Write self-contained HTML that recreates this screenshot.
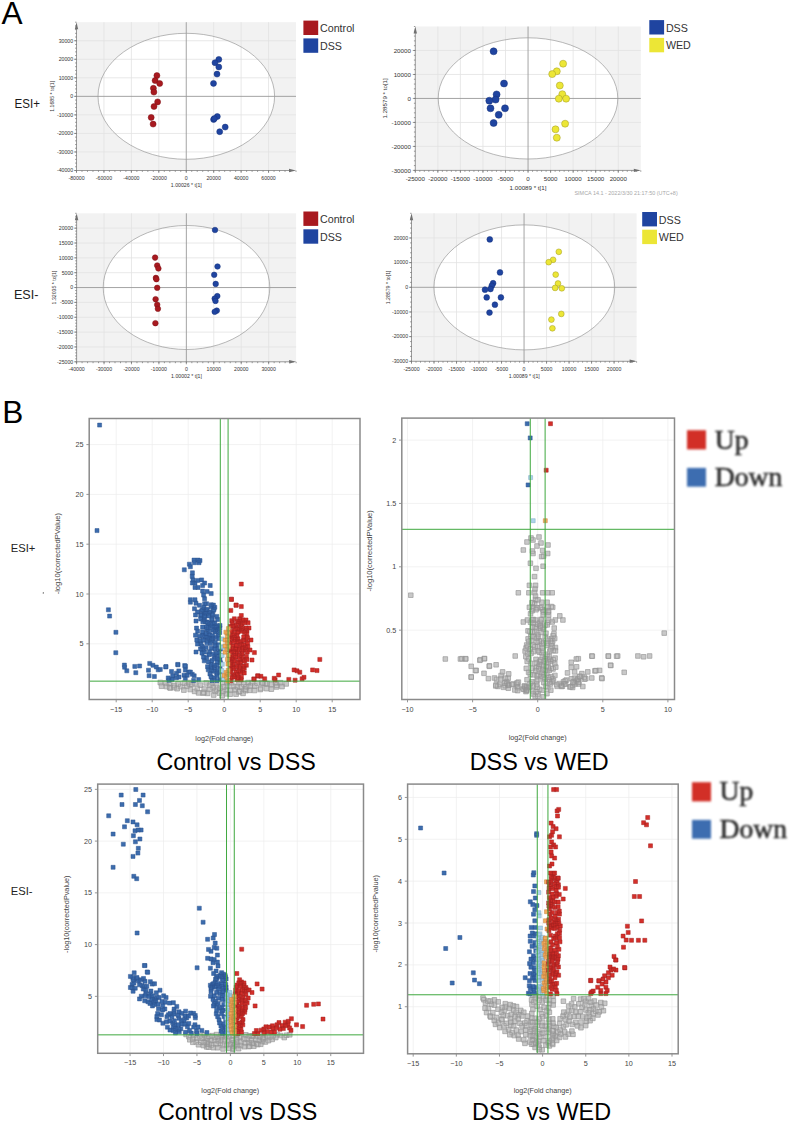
<!DOCTYPE html>
<html><head><meta charset="utf-8"><style>
html,body{margin:0;padding:0;background:#fff;width:789px;height:1122px;overflow:hidden}
svg{position:absolute;left:0;top:0;display:block}
text{font-family:"Liberation Sans", sans-serif}
</style></head><body>
<svg width="789" height="1122" viewBox="0 0 789 1122">
<defs><filter id="blur" x="-20%" y="-20%" width="140%" height="140%"><feGaussianBlur stdDeviation="0.7"/></filter></defs>
<text x="1.5" y="23.6" font-size="31.6" fill="#000" text-anchor="start" >A</text>
<text x="2.2" y="423" font-size="31.6" fill="#000" text-anchor="start" >B</text>
<text x="0" y="0" font-size="11.6" fill="#1a1a1a" text-anchor="start" transform="translate(14.5 107.8) scale(1 1.11)" >ESI+</text>
<text x="13.9" y="299.2" font-size="12.6" fill="#222" text-anchor="start" >ESI-</text>
<text x="10.8" y="551.9" font-size="11.2" fill="#222" text-anchor="start" >ESI+</text>
<text x="10.8" y="895.2" font-size="11.2" fill="#222" text-anchor="start" >ESI-</text>
<rect x="76.5" y="22.2" width="219.5" height="148.3" fill="#f2f2f2"/>
<ellipse cx="186.3" cy="96.3" rx="88.3" ry="63" fill="#fff"/>
<path d="M103.94 22.2V170.5M131.38 22.2V170.5M158.81 22.2V170.5M213.69 22.2V170.5M241.12 22.2V170.5M268.56 22.2V170.5M76.5 151.96H296M76.5 133.43H296M76.5 114.89H296M76.5 77.81H296M76.5 59.27H296M76.5 40.74H296" stroke="#e2e2e2" stroke-width="0.8" fill="none"/>
<ellipse cx="186.3" cy="96.3" rx="88.3" ry="63" fill="none" stroke="#8a8a8a" stroke-width="0.6"/>
<path d="M186.25 22.2V170.5M76.5 96.35H296" stroke="#9a9a9a" stroke-width="0.9" fill="none"/>
<path d="M76.5 170.5V24.2M76.5 170.5H294M76.5 170.5v2.5M103.94 170.5v2.5M131.38 170.5v2.5M158.81 170.5v2.5M186.25 170.5v2.5M213.69 170.5v2.5M241.12 170.5v2.5M268.56 170.5v2.5M76.5 170.5v1.4M81.99 170.5v1.4M87.47 170.5v1.4M92.96 170.5v1.4M98.45 170.5v1.4M103.94 170.5v1.4M109.42 170.5v1.4M114.91 170.5v1.4M120.4 170.5v1.4M125.89 170.5v1.4M131.38 170.5v1.4M136.86 170.5v1.4M142.35 170.5v1.4M147.84 170.5v1.4M153.32 170.5v1.4M158.81 170.5v1.4M164.3 170.5v1.4M169.79 170.5v1.4M175.28 170.5v1.4M180.76 170.5v1.4M186.25 170.5v1.4M191.74 170.5v1.4M197.23 170.5v1.4M202.71 170.5v1.4M208.2 170.5v1.4M213.69 170.5v1.4M219.18 170.5v1.4M224.66 170.5v1.4M230.15 170.5v1.4M235.64 170.5v1.4M241.12 170.5v1.4M246.61 170.5v1.4M252.1 170.5v1.4M257.59 170.5v1.4M263.07 170.5v1.4M268.56 170.5v1.4M274.05 170.5v1.4M279.54 170.5v1.4M285.02 170.5v1.4M290.51 170.5v1.4M296 170.5v1.4M76.5 170.5h-2.5M76.5 151.96h-2.5M76.5 133.43h-2.5M76.5 114.89h-2.5M76.5 96.35h-2.5M76.5 77.81h-2.5M76.5 59.27h-2.5M76.5 40.74h-2.5M76.5 170.5h-1.4M76.5 166.79h-1.4M76.5 163.09h-1.4M76.5 159.38h-1.4M76.5 155.67h-1.4M76.5 151.96h-1.4M76.5 148.25h-1.4M76.5 144.55h-1.4M76.5 140.84h-1.4M76.5 137.13h-1.4M76.5 133.43h-1.4M76.5 129.72h-1.4M76.5 126.01h-1.4M76.5 122.3h-1.4M76.5 118.59h-1.4M76.5 114.89h-1.4M76.5 111.18h-1.4M76.5 107.47h-1.4M76.5 103.76h-1.4M76.5 100.06h-1.4M76.5 96.35h-1.4M76.5 92.64h-1.4M76.5 88.93h-1.4M76.5 85.23h-1.4M76.5 81.52h-1.4M76.5 77.81h-1.4M76.5 74.1h-1.4M76.5 70.4h-1.4M76.5 66.69h-1.4M76.5 62.98h-1.4M76.5 59.27h-1.4M76.5 55.57h-1.4M76.5 51.86h-1.4M76.5 48.15h-1.4M76.5 44.44h-1.4M76.5 40.74h-1.4M76.5 37.03h-1.4M76.5 33.32h-1.4M76.5 29.62h-1.4M76.5 25.91h-1.4M76.5 22.2h-1.4" stroke="#707070" stroke-width="0.7" fill="none"/>
<path d="M74.8 29.2L76.5 22.2L78.2 29.2Z" fill="#707070"/>
<path d="M289 168.8L296 170.5L289 172.2Z" fill="#707070"/>
<text x="76.5" y="180.1" font-size="5.2" fill="#333" text-anchor="middle" >-80000</text>
<text x="103.94" y="180.1" font-size="5.2" fill="#333" text-anchor="middle" >-60000</text>
<text x="131.38" y="180.1" font-size="5.2" fill="#333" text-anchor="middle" >-40000</text>
<text x="158.81" y="180.1" font-size="5.2" fill="#333" text-anchor="middle" >-20000</text>
<text x="186.25" y="180.1" font-size="5.2" fill="#333" text-anchor="middle" >0</text>
<text x="213.69" y="180.1" font-size="5.2" fill="#333" text-anchor="middle" >20000</text>
<text x="241.12" y="180.1" font-size="5.2" fill="#333" text-anchor="middle" >40000</text>
<text x="268.56" y="180.1" font-size="5.2" fill="#333" text-anchor="middle" >60000</text>
<text x="73.1" y="172.32" font-size="5.2" fill="#333" text-anchor="end" >-40000</text>
<text x="73.1" y="153.78" font-size="5.2" fill="#333" text-anchor="end" >-30000</text>
<text x="73.1" y="135.25" font-size="5.2" fill="#333" text-anchor="end" >-20000</text>
<text x="73.1" y="116.71" font-size="5.2" fill="#333" text-anchor="end" >-10000</text>
<text x="73.1" y="98.17" font-size="5.2" fill="#333" text-anchor="end" >0</text>
<text x="73.1" y="79.63" font-size="5.2" fill="#333" text-anchor="end" >10000</text>
<text x="73.1" y="61.09" font-size="5.2" fill="#333" text-anchor="end" >20000</text>
<text x="73.1" y="42.56" font-size="5.2" fill="#333" text-anchor="end" >30000</text>
<text x="186.3" y="186.6" font-size="5.2" fill="#333" text-anchor="middle" >1.00026 * t[1]</text>
<text x="0" y="0" font-size="5.2" fill="#333" text-anchor="middle" transform="translate(53.8 96.3) rotate(-90)">1.1685 * to[1]</text>
<circle cx="156.9" cy="75.6" r="3" fill="#a8191f" stroke="#7d1015" stroke-width="0.5"/>
<circle cx="155.1" cy="80.6" r="3" fill="#a8191f" stroke="#7d1015" stroke-width="0.5"/>
<circle cx="159.7" cy="83.5" r="3" fill="#a8191f" stroke="#7d1015" stroke-width="0.5"/>
<circle cx="153.4" cy="88.3" r="3" fill="#a8191f" stroke="#7d1015" stroke-width="0.5"/>
<circle cx="153.9" cy="92.1" r="3" fill="#a8191f" stroke="#7d1015" stroke-width="0.5"/>
<circle cx="157.6" cy="101.9" r="3" fill="#a8191f" stroke="#7d1015" stroke-width="0.5"/>
<circle cx="154" cy="106.5" r="3" fill="#a8191f" stroke="#7d1015" stroke-width="0.5"/>
<circle cx="151.2" cy="117.4" r="3" fill="#a8191f" stroke="#7d1015" stroke-width="0.5"/>
<circle cx="153.1" cy="124.1" r="3" fill="#a8191f" stroke="#7d1015" stroke-width="0.5"/>
<circle cx="218.8" cy="59.4" r="3" fill="#1f44a0" stroke="#15307a" stroke-width="0.5"/>
<circle cx="215" cy="62.7" r="3" fill="#1f44a0" stroke="#15307a" stroke-width="0.5"/>
<circle cx="218.8" cy="67" r="3" fill="#1f44a0" stroke="#15307a" stroke-width="0.5"/>
<circle cx="217" cy="74.1" r="3" fill="#1f44a0" stroke="#15307a" stroke-width="0.5"/>
<circle cx="213.5" cy="83.4" r="3" fill="#1f44a0" stroke="#15307a" stroke-width="0.5"/>
<circle cx="217.3" cy="116.5" r="3" fill="#1f44a0" stroke="#15307a" stroke-width="0.5"/>
<circle cx="213.6" cy="119.5" r="3" fill="#1f44a0" stroke="#15307a" stroke-width="0.5"/>
<circle cx="214.3" cy="118.6" r="3" fill="#1f44a0" stroke="#15307a" stroke-width="0.5"/>
<circle cx="225.2" cy="127.1" r="3" fill="#1f44a0" stroke="#15307a" stroke-width="0.5"/>
<circle cx="219.7" cy="131.7" r="3" fill="#1f44a0" stroke="#15307a" stroke-width="0.5"/>
<rect x="303.4" y="20.6" width="14.8" height="14.4" fill="#a8191f"/>
<text x="320" y="32.1" font-size="10.7" fill="#333" text-anchor="start" >Control</text>
<rect x="303.4" y="38.4" width="14.8" height="14.4" fill="#1f44a0"/>
<text x="320" y="49.9" font-size="10.7" fill="#333" text-anchor="start" >DSS</text>
<rect x="415.3" y="26.5" width="225.5" height="143.9" fill="#f2f2f2"/>
<ellipse cx="528" cy="98.4" rx="89.8" ry="60.6" fill="#fff"/>
<path d="M437.85 26.5V170.4M460.4 26.5V170.4M482.95 26.5V170.4M505.5 26.5V170.4M550.6 26.5V170.4M573.15 26.5V170.4M595.7 26.5V170.4M618.25 26.5V170.4M415.3 146.42H640.8M415.3 122.43H640.8M415.3 74.47H640.8M415.3 50.48H640.8" stroke="#e2e2e2" stroke-width="0.8" fill="none"/>
<ellipse cx="528" cy="98.4" rx="89.8" ry="60.6" fill="none" stroke="#8a8a8a" stroke-width="0.6"/>
<path d="M528.05 26.5V170.4M415.3 98.45H640.8" stroke="#9a9a9a" stroke-width="0.9" fill="none"/>
<path d="M415.3 170.4V28.5M415.3 170.4H638.8M415.3 170.4v2.5M437.85 170.4v2.5M460.4 170.4v2.5M482.95 170.4v2.5M505.5 170.4v2.5M528.05 170.4v2.5M550.6 170.4v2.5M573.15 170.4v2.5M595.7 170.4v2.5M618.25 170.4v2.5M415.3 170.4v1.4M419.81 170.4v1.4M424.32 170.4v1.4M428.83 170.4v1.4M433.34 170.4v1.4M437.85 170.4v1.4M442.36 170.4v1.4M446.87 170.4v1.4M451.38 170.4v1.4M455.89 170.4v1.4M460.4 170.4v1.4M464.91 170.4v1.4M469.42 170.4v1.4M473.93 170.4v1.4M478.44 170.4v1.4M482.95 170.4v1.4M487.46 170.4v1.4M491.97 170.4v1.4M496.48 170.4v1.4M500.99 170.4v1.4M505.5 170.4v1.4M510.01 170.4v1.4M514.52 170.4v1.4M519.03 170.4v1.4M523.54 170.4v1.4M528.05 170.4v1.4M532.56 170.4v1.4M537.07 170.4v1.4M541.58 170.4v1.4M546.09 170.4v1.4M550.6 170.4v1.4M555.11 170.4v1.4M559.62 170.4v1.4M564.13 170.4v1.4M568.64 170.4v1.4M573.15 170.4v1.4M577.66 170.4v1.4M582.17 170.4v1.4M586.68 170.4v1.4M591.19 170.4v1.4M595.7 170.4v1.4M600.21 170.4v1.4M604.72 170.4v1.4M609.23 170.4v1.4M613.74 170.4v1.4M618.25 170.4v1.4M622.76 170.4v1.4M627.27 170.4v1.4M631.78 170.4v1.4M636.29 170.4v1.4M640.8 170.4v1.4M415.3 170.4h-2.5M415.3 146.42h-2.5M415.3 122.43h-2.5M415.3 98.45h-2.5M415.3 74.47h-2.5M415.3 50.48h-2.5M415.3 170.4h-1.4M415.3 165.6h-1.4M415.3 160.81h-1.4M415.3 156.01h-1.4M415.3 151.21h-1.4M415.3 146.42h-1.4M415.3 141.62h-1.4M415.3 136.82h-1.4M415.3 132.03h-1.4M415.3 127.23h-1.4M415.3 122.43h-1.4M415.3 117.64h-1.4M415.3 112.84h-1.4M415.3 108.04h-1.4M415.3 103.25h-1.4M415.3 98.45h-1.4M415.3 93.65h-1.4M415.3 88.86h-1.4M415.3 84.06h-1.4M415.3 79.26h-1.4M415.3 74.47h-1.4M415.3 69.67h-1.4M415.3 64.87h-1.4M415.3 60.08h-1.4M415.3 55.28h-1.4M415.3 50.48h-1.4M415.3 45.69h-1.4M415.3 40.89h-1.4M415.3 36.09h-1.4M415.3 31.3h-1.4M415.3 26.5h-1.4" stroke="#707070" stroke-width="0.7" fill="none"/>
<path d="M413.6 33.5L415.3 26.5L417 33.5Z" fill="#707070"/>
<path d="M633.8 168.7L640.8 170.4L633.8 172.1Z" fill="#707070"/>
<text x="415.3" y="181.4" font-size="6.2" fill="#333" text-anchor="middle" >-25000</text>
<text x="437.85" y="181.4" font-size="6.2" fill="#333" text-anchor="middle" >-20000</text>
<text x="460.4" y="181.4" font-size="6.2" fill="#333" text-anchor="middle" >-15000</text>
<text x="482.95" y="181.4" font-size="6.2" fill="#333" text-anchor="middle" >-10000</text>
<text x="505.5" y="181.4" font-size="6.2" fill="#333" text-anchor="middle" >-5000</text>
<text x="528.05" y="181.4" font-size="6.2" fill="#333" text-anchor="middle" >0</text>
<text x="550.6" y="181.4" font-size="6.2" fill="#333" text-anchor="middle" >5000</text>
<text x="573.15" y="181.4" font-size="6.2" fill="#333" text-anchor="middle" >10000</text>
<text x="595.7" y="181.4" font-size="6.2" fill="#333" text-anchor="middle" >15000</text>
<text x="618.25" y="181.4" font-size="6.2" fill="#333" text-anchor="middle" >20000</text>
<text x="410.9" y="172.57" font-size="6.2" fill="#333" text-anchor="end" >-30000</text>
<text x="410.9" y="148.59" font-size="6.2" fill="#333" text-anchor="end" >-20000</text>
<text x="410.9" y="124.6" font-size="6.2" fill="#333" text-anchor="end" >-10000</text>
<text x="410.9" y="100.62" font-size="6.2" fill="#333" text-anchor="end" >0</text>
<text x="410.9" y="76.64" font-size="6.2" fill="#333" text-anchor="end" >10000</text>
<text x="410.9" y="52.65" font-size="6.2" fill="#333" text-anchor="end" >20000</text>
<text x="528" y="189.5" font-size="6.2" fill="#333" text-anchor="middle" >1.00089 * t[1]</text>
<text x="0" y="0" font-size="6.2" fill="#333" text-anchor="middle" transform="translate(387.4 98.4) rotate(-90)">1.28579 * to[1]</text>
<circle cx="493.6" cy="51.3" r="3.5" fill="#1f44a0" stroke="#15307a" stroke-width="0.5"/>
<circle cx="504" cy="83.5" r="3.5" fill="#1f44a0" stroke="#15307a" stroke-width="0.5"/>
<circle cx="496.6" cy="94.4" r="3.5" fill="#1f44a0" stroke="#15307a" stroke-width="0.5"/>
<circle cx="495.6" cy="99.6" r="3.5" fill="#1f44a0" stroke="#15307a" stroke-width="0.5"/>
<circle cx="489.3" cy="100.7" r="3.5" fill="#1f44a0" stroke="#15307a" stroke-width="0.5"/>
<circle cx="490.5" cy="108.3" r="3.5" fill="#1f44a0" stroke="#15307a" stroke-width="0.5"/>
<circle cx="505" cy="108.3" r="3.5" fill="#1f44a0" stroke="#15307a" stroke-width="0.5"/>
<circle cx="498.7" cy="114.8" r="3.5" fill="#1f44a0" stroke="#15307a" stroke-width="0.5"/>
<circle cx="493.6" cy="123" r="3.5" fill="#1f44a0" stroke="#15307a" stroke-width="0.5"/>
<circle cx="563.1" cy="63.7" r="3.5" fill="#ece636" stroke="#a09a20" stroke-width="0.5"/>
<circle cx="556.8" cy="71.3" r="3.5" fill="#ece636" stroke="#a09a20" stroke-width="0.5"/>
<circle cx="552.2" cy="74.1" r="3.5" fill="#ece636" stroke="#a09a20" stroke-width="0.5"/>
<circle cx="559.8" cy="85.5" r="3.5" fill="#ece636" stroke="#a09a20" stroke-width="0.5"/>
<circle cx="562.3" cy="94.2" r="3.5" fill="#ece636" stroke="#a09a20" stroke-width="0.5"/>
<circle cx="558.8" cy="98.7" r="3.5" fill="#ece636" stroke="#a09a20" stroke-width="0.5"/>
<circle cx="566.1" cy="98.7" r="3.5" fill="#ece636" stroke="#a09a20" stroke-width="0.5"/>
<circle cx="565.1" cy="123.7" r="3.5" fill="#ece636" stroke="#a09a20" stroke-width="0.5"/>
<circle cx="555.5" cy="129.3" r="3.5" fill="#ece636" stroke="#a09a20" stroke-width="0.5"/>
<circle cx="556.8" cy="137.7" r="3.5" fill="#ece636" stroke="#a09a20" stroke-width="0.5"/>
<rect x="649.3" y="20.1" width="14.8" height="14.4" fill="#1f44a0"/>
<text x="665.9" y="31.6" font-size="10.7" fill="#333" text-anchor="start" >DSS</text>
<rect x="649.3" y="37.9" width="14.8" height="14.4" fill="#ece636"/>
<text x="665.9" y="49.4" font-size="10.7" fill="#333" text-anchor="start" >WED</text>
<rect x="76.6" y="213.3" width="219.5" height="148.5" fill="#f2f2f2"/>
<ellipse cx="186.5" cy="287.5" rx="83.3" ry="62" fill="#fff"/>
<path d="M104.04 213.3V361.8M131.47 213.3V361.8M158.91 213.3V361.8M213.79 213.3V361.8M241.23 213.3V361.8M268.66 213.3V361.8M76.6 346.95H296.1M76.6 332.1H296.1M76.6 317.25H296.1M76.6 302.4H296.1M76.6 272.7H296.1M76.6 257.85H296.1M76.6 243H296.1M76.6 228.15H296.1" stroke="#e2e2e2" stroke-width="0.8" fill="none"/>
<ellipse cx="186.5" cy="287.5" rx="83.3" ry="62" fill="none" stroke="#8a8a8a" stroke-width="0.6"/>
<path d="M186.35 213.3V361.8M76.6 287.55H296.1" stroke="#9a9a9a" stroke-width="0.9" fill="none"/>
<path d="M76.6 361.8V215.3M76.6 361.8H294.1M76.6 361.8v2.5M104.04 361.8v2.5M131.47 361.8v2.5M158.91 361.8v2.5M186.35 361.8v2.5M213.79 361.8v2.5M241.23 361.8v2.5M268.66 361.8v2.5M76.6 361.8v1.4M82.09 361.8v1.4M87.57 361.8v1.4M93.06 361.8v1.4M98.55 361.8v1.4M104.04 361.8v1.4M109.53 361.8v1.4M115.01 361.8v1.4M120.5 361.8v1.4M125.99 361.8v1.4M131.47 361.8v1.4M136.96 361.8v1.4M142.45 361.8v1.4M147.94 361.8v1.4M153.43 361.8v1.4M158.91 361.8v1.4M164.4 361.8v1.4M169.89 361.8v1.4M175.38 361.8v1.4M180.86 361.8v1.4M186.35 361.8v1.4M191.84 361.8v1.4M197.33 361.8v1.4M202.81 361.8v1.4M208.3 361.8v1.4M213.79 361.8v1.4M219.28 361.8v1.4M224.76 361.8v1.4M230.25 361.8v1.4M235.74 361.8v1.4M241.23 361.8v1.4M246.71 361.8v1.4M252.2 361.8v1.4M257.69 361.8v1.4M263.18 361.8v1.4M268.66 361.8v1.4M274.15 361.8v1.4M279.64 361.8v1.4M285.12 361.8v1.4M290.61 361.8v1.4M296.1 361.8v1.4M76.6 361.8h-2.5M76.6 346.95h-2.5M76.6 332.1h-2.5M76.6 317.25h-2.5M76.6 302.4h-2.5M76.6 287.55h-2.5M76.6 272.7h-2.5M76.6 257.85h-2.5M76.6 243h-2.5M76.6 228.15h-2.5M76.6 361.8h-1.4M76.6 358.83h-1.4M76.6 355.86h-1.4M76.6 352.89h-1.4M76.6 349.92h-1.4M76.6 346.95h-1.4M76.6 343.98h-1.4M76.6 341.01h-1.4M76.6 338.04h-1.4M76.6 335.07h-1.4M76.6 332.1h-1.4M76.6 329.13h-1.4M76.6 326.16h-1.4M76.6 323.19h-1.4M76.6 320.22h-1.4M76.6 317.25h-1.4M76.6 314.28h-1.4M76.6 311.31h-1.4M76.6 308.34h-1.4M76.6 305.37h-1.4M76.6 302.4h-1.4M76.6 299.43h-1.4M76.6 296.46h-1.4M76.6 293.49h-1.4M76.6 290.52h-1.4M76.6 287.55h-1.4M76.6 284.58h-1.4M76.6 281.61h-1.4M76.6 278.64h-1.4M76.6 275.67h-1.4M76.6 272.7h-1.4M76.6 269.73h-1.4M76.6 266.76h-1.4M76.6 263.79h-1.4M76.6 260.82h-1.4M76.6 257.85h-1.4M76.6 254.88h-1.4M76.6 251.91h-1.4M76.6 248.94h-1.4M76.6 245.97h-1.4M76.6 243h-1.4M76.6 240.03h-1.4M76.6 237.06h-1.4M76.6 234.09h-1.4M76.6 231.12h-1.4M76.6 228.15h-1.4M76.6 225.18h-1.4M76.6 222.21h-1.4M76.6 219.24h-1.4M76.6 216.27h-1.4M76.6 213.3h-1.4" stroke="#707070" stroke-width="0.7" fill="none"/>
<path d="M74.9 220.3L76.6 213.3L78.3 220.3Z" fill="#707070"/>
<path d="M289.1 360.1L296.1 361.8L289.1 363.5Z" fill="#707070"/>
<text x="76.6" y="371.4" font-size="5.2" fill="#333" text-anchor="middle" >-40000</text>
<text x="104.04" y="371.4" font-size="5.2" fill="#333" text-anchor="middle" >-30000</text>
<text x="131.47" y="371.4" font-size="5.2" fill="#333" text-anchor="middle" >-20000</text>
<text x="158.91" y="371.4" font-size="5.2" fill="#333" text-anchor="middle" >-10000</text>
<text x="186.35" y="371.4" font-size="5.2" fill="#333" text-anchor="middle" >0</text>
<text x="213.79" y="371.4" font-size="5.2" fill="#333" text-anchor="middle" >10000</text>
<text x="241.23" y="371.4" font-size="5.2" fill="#333" text-anchor="middle" >20000</text>
<text x="268.66" y="371.4" font-size="5.2" fill="#333" text-anchor="middle" >30000</text>
<text x="73.2" y="363.62" font-size="5.2" fill="#333" text-anchor="end" >-25000</text>
<text x="73.2" y="348.77" font-size="5.2" fill="#333" text-anchor="end" >-20000</text>
<text x="73.2" y="333.92" font-size="5.2" fill="#333" text-anchor="end" >-15000</text>
<text x="73.2" y="319.07" font-size="5.2" fill="#333" text-anchor="end" >-10000</text>
<text x="73.2" y="304.22" font-size="5.2" fill="#333" text-anchor="end" >-5000</text>
<text x="73.2" y="289.37" font-size="5.2" fill="#333" text-anchor="end" >0</text>
<text x="73.2" y="274.52" font-size="5.2" fill="#333" text-anchor="end" >5000</text>
<text x="73.2" y="259.67" font-size="5.2" fill="#333" text-anchor="end" >10000</text>
<text x="73.2" y="244.82" font-size="5.2" fill="#333" text-anchor="end" >15000</text>
<text x="73.2" y="229.97" font-size="5.2" fill="#333" text-anchor="end" >20000</text>
<text x="186.5" y="377.5" font-size="5.2" fill="#333" text-anchor="middle" >1.00002 * t[1]</text>
<text x="0" y="0" font-size="5.2" fill="#333" text-anchor="middle" transform="translate(55.5 287.5) rotate(-90)">1.32035 * to[1]</text>
<circle cx="155.1" cy="257.6" r="2.8" fill="#a8191f" stroke="#7d1015" stroke-width="0.5"/>
<circle cx="157.2" cy="265.5" r="2.8" fill="#a8191f" stroke="#7d1015" stroke-width="0.5"/>
<circle cx="158.4" cy="268.5" r="2.8" fill="#a8191f" stroke="#7d1015" stroke-width="0.5"/>
<circle cx="155.9" cy="277.9" r="2.8" fill="#a8191f" stroke="#7d1015" stroke-width="0.5"/>
<circle cx="156.4" cy="279.2" r="2.8" fill="#a8191f" stroke="#7d1015" stroke-width="0.5"/>
<circle cx="157.2" cy="287.8" r="2.8" fill="#a8191f" stroke="#7d1015" stroke-width="0.5"/>
<circle cx="155.6" cy="299.2" r="2.8" fill="#a8191f" stroke="#7d1015" stroke-width="0.5"/>
<circle cx="157.2" cy="304.7" r="2.8" fill="#a8191f" stroke="#7d1015" stroke-width="0.5"/>
<circle cx="157.9" cy="308.8" r="2.8" fill="#a8191f" stroke="#7d1015" stroke-width="0.5"/>
<circle cx="155.4" cy="323.2" r="2.8" fill="#a8191f" stroke="#7d1015" stroke-width="0.5"/>
<circle cx="215" cy="230" r="2.8" fill="#1f44a0" stroke="#15307a" stroke-width="0.5"/>
<circle cx="217.5" cy="266.5" r="2.8" fill="#1f44a0" stroke="#15307a" stroke-width="0.5"/>
<circle cx="214.2" cy="274.8" r="2.8" fill="#1f44a0" stroke="#15307a" stroke-width="0.5"/>
<circle cx="215.7" cy="283.9" r="2.8" fill="#1f44a0" stroke="#15307a" stroke-width="0.5"/>
<circle cx="217.3" cy="296.1" r="2.8" fill="#1f44a0" stroke="#15307a" stroke-width="0.5"/>
<circle cx="214.7" cy="298.6" r="2.8" fill="#1f44a0" stroke="#15307a" stroke-width="0.5"/>
<circle cx="215.5" cy="300.9" r="2.8" fill="#1f44a0" stroke="#15307a" stroke-width="0.5"/>
<circle cx="216.8" cy="310.6" r="2.8" fill="#1f44a0" stroke="#15307a" stroke-width="0.5"/>
<circle cx="214.7" cy="311.8" r="2.8" fill="#1f44a0" stroke="#15307a" stroke-width="0.5"/>
<rect x="303.4" y="211.5" width="14.8" height="14.4" fill="#a8191f"/>
<text x="320" y="223" font-size="10.7" fill="#333" text-anchor="start" >Control</text>
<rect x="303.4" y="229.3" width="14.8" height="14.4" fill="#1f44a0"/>
<text x="320" y="240.8" font-size="10.7" fill="#333" text-anchor="start" >DSS</text>
<rect x="411.5" y="213.3" width="225.1" height="148" fill="#f2f2f2"/>
<ellipse cx="524.3" cy="287.4" rx="90.4" ry="62.5" fill="#fff"/>
<path d="M434.01 213.3V361.3M456.52 213.3V361.3M479.03 213.3V361.3M501.54 213.3V361.3M546.56 213.3V361.3M569.07 213.3V361.3M591.58 213.3V361.3M614.09 213.3V361.3M411.5 336.63H636.6M411.5 311.97H636.6M411.5 262.63H636.6M411.5 237.97H636.6" stroke="#e2e2e2" stroke-width="0.8" fill="none"/>
<ellipse cx="524.3" cy="287.4" rx="90.4" ry="62.5" fill="none" stroke="#8a8a8a" stroke-width="0.6"/>
<path d="M524.05 213.3V361.3M411.5 287.3H636.6" stroke="#9a9a9a" stroke-width="0.9" fill="none"/>
<path d="M411.5 361.3V215.3M411.5 361.3H634.6M411.5 361.3v2.5M434.01 361.3v2.5M456.52 361.3v2.5M479.03 361.3v2.5M501.54 361.3v2.5M524.05 361.3v2.5M546.56 361.3v2.5M569.07 361.3v2.5M591.58 361.3v2.5M614.09 361.3v2.5M411.5 361.3v1.4M416 361.3v1.4M420.5 361.3v1.4M425.01 361.3v1.4M429.51 361.3v1.4M434.01 361.3v1.4M438.51 361.3v1.4M443.01 361.3v1.4M447.52 361.3v1.4M452.02 361.3v1.4M456.52 361.3v1.4M461.02 361.3v1.4M465.52 361.3v1.4M470.03 361.3v1.4M474.53 361.3v1.4M479.03 361.3v1.4M483.53 361.3v1.4M488.03 361.3v1.4M492.54 361.3v1.4M497.04 361.3v1.4M501.54 361.3v1.4M506.04 361.3v1.4M510.54 361.3v1.4M515.05 361.3v1.4M519.55 361.3v1.4M524.05 361.3v1.4M528.55 361.3v1.4M533.05 361.3v1.4M537.56 361.3v1.4M542.06 361.3v1.4M546.56 361.3v1.4M551.06 361.3v1.4M555.56 361.3v1.4M560.07 361.3v1.4M564.57 361.3v1.4M569.07 361.3v1.4M573.57 361.3v1.4M578.07 361.3v1.4M582.58 361.3v1.4M587.08 361.3v1.4M591.58 361.3v1.4M596.08 361.3v1.4M600.58 361.3v1.4M605.09 361.3v1.4M609.59 361.3v1.4M614.09 361.3v1.4M618.59 361.3v1.4M623.09 361.3v1.4M627.6 361.3v1.4M632.1 361.3v1.4M636.6 361.3v1.4M411.5 361.3h-2.5M411.5 336.63h-2.5M411.5 311.97h-2.5M411.5 287.3h-2.5M411.5 262.63h-2.5M411.5 237.97h-2.5M411.5 361.3h-1.4M411.5 356.37h-1.4M411.5 351.43h-1.4M411.5 346.5h-1.4M411.5 341.57h-1.4M411.5 336.63h-1.4M411.5 331.7h-1.4M411.5 326.77h-1.4M411.5 321.83h-1.4M411.5 316.9h-1.4M411.5 311.97h-1.4M411.5 307.03h-1.4M411.5 302.1h-1.4M411.5 297.17h-1.4M411.5 292.23h-1.4M411.5 287.3h-1.4M411.5 282.37h-1.4M411.5 277.43h-1.4M411.5 272.5h-1.4M411.5 267.57h-1.4M411.5 262.63h-1.4M411.5 257.7h-1.4M411.5 252.77h-1.4M411.5 247.83h-1.4M411.5 242.9h-1.4M411.5 237.97h-1.4M411.5 233.03h-1.4M411.5 228.1h-1.4M411.5 223.17h-1.4M411.5 218.23h-1.4M411.5 213.3h-1.4" stroke="#707070" stroke-width="0.7" fill="none"/>
<path d="M409.8 220.3L411.5 213.3L413.2 220.3Z" fill="#707070"/>
<path d="M629.6 359.6L636.6 361.3L629.6 363Z" fill="#707070"/>
<text x="411.5" y="370.7" font-size="5.2" fill="#333" text-anchor="middle" >-25000</text>
<text x="434.01" y="370.7" font-size="5.2" fill="#333" text-anchor="middle" >-20000</text>
<text x="456.52" y="370.7" font-size="5.2" fill="#333" text-anchor="middle" >-15000</text>
<text x="479.03" y="370.7" font-size="5.2" fill="#333" text-anchor="middle" >-10000</text>
<text x="501.54" y="370.7" font-size="5.2" fill="#333" text-anchor="middle" >-5000</text>
<text x="524.05" y="370.7" font-size="5.2" fill="#333" text-anchor="middle" >0</text>
<text x="546.56" y="370.7" font-size="5.2" fill="#333" text-anchor="middle" >5000</text>
<text x="569.07" y="370.7" font-size="5.2" fill="#333" text-anchor="middle" >10000</text>
<text x="591.58" y="370.7" font-size="5.2" fill="#333" text-anchor="middle" >15000</text>
<text x="614.09" y="370.7" font-size="5.2" fill="#333" text-anchor="middle" >20000</text>
<text x="408.1" y="363.12" font-size="5.2" fill="#333" text-anchor="end" >-30000</text>
<text x="408.1" y="338.45" font-size="5.2" fill="#333" text-anchor="end" >-20000</text>
<text x="408.1" y="313.79" font-size="5.2" fill="#333" text-anchor="end" >-10000</text>
<text x="408.1" y="289.12" font-size="5.2" fill="#333" text-anchor="end" >0</text>
<text x="408.1" y="264.45" font-size="5.2" fill="#333" text-anchor="end" >10000</text>
<text x="408.1" y="239.79" font-size="5.2" fill="#333" text-anchor="end" >20000</text>
<text x="524.3" y="377.5" font-size="5.2" fill="#333" text-anchor="middle" >1.00089 * t[1]</text>
<text x="0" y="0" font-size="5.2" fill="#333" text-anchor="middle" transform="translate(389.5 287.4) rotate(-90)">1.28579 * to[1]</text>
<circle cx="489.8" cy="239.4" r="2.9" fill="#1f44a0" stroke="#15307a" stroke-width="0.5"/>
<circle cx="500" cy="272.4" r="2.9" fill="#1f44a0" stroke="#15307a" stroke-width="0.5"/>
<circle cx="493.1" cy="283.2" r="2.9" fill="#1f44a0" stroke="#15307a" stroke-width="0.5"/>
<circle cx="491.8" cy="285.7" r="2.9" fill="#1f44a0" stroke="#15307a" stroke-width="0.5"/>
<circle cx="490.5" cy="289" r="2.9" fill="#1f44a0" stroke="#15307a" stroke-width="0.5"/>
<circle cx="485" cy="289.7" r="2.9" fill="#1f44a0" stroke="#15307a" stroke-width="0.5"/>
<circle cx="486.7" cy="297.4" r="2.9" fill="#1f44a0" stroke="#15307a" stroke-width="0.5"/>
<circle cx="500.9" cy="297.4" r="2.9" fill="#1f44a0" stroke="#15307a" stroke-width="0.5"/>
<circle cx="494.9" cy="304.7" r="2.9" fill="#1f44a0" stroke="#15307a" stroke-width="0.5"/>
<circle cx="489.5" cy="312.6" r="2.9" fill="#1f44a0" stroke="#15307a" stroke-width="0.5"/>
<circle cx="558.8" cy="251.8" r="2.9" fill="#ece636" stroke="#a09a20" stroke-width="0.5"/>
<circle cx="553.1" cy="259.8" r="2.9" fill="#ece636" stroke="#a09a20" stroke-width="0.5"/>
<circle cx="548.7" cy="262.2" r="2.9" fill="#ece636" stroke="#a09a20" stroke-width="0.5"/>
<circle cx="555.7" cy="274.6" r="2.9" fill="#ece636" stroke="#a09a20" stroke-width="0.5"/>
<circle cx="558" cy="283.5" r="2.9" fill="#ece636" stroke="#a09a20" stroke-width="0.5"/>
<circle cx="555.1" cy="287.9" r="2.9" fill="#ece636" stroke="#a09a20" stroke-width="0.5"/>
<circle cx="561.8" cy="288.3" r="2.9" fill="#ece636" stroke="#a09a20" stroke-width="0.5"/>
<circle cx="561.3" cy="313.9" r="2.9" fill="#ece636" stroke="#a09a20" stroke-width="0.5"/>
<circle cx="551.4" cy="319.6" r="2.9" fill="#ece636" stroke="#a09a20" stroke-width="0.5"/>
<circle cx="552.4" cy="328.3" r="2.9" fill="#ece636" stroke="#a09a20" stroke-width="0.5"/>
<rect x="642.2" y="212" width="14.8" height="14.4" fill="#1f44a0"/>
<text x="658.8" y="223.5" font-size="10.7" fill="#333" text-anchor="start" >DSS</text>
<rect x="642.2" y="229.7" width="14.8" height="14.4" fill="#ece636"/>
<text x="658.8" y="241.2" font-size="10.7" fill="#333" text-anchor="start" >WED</text>
<text x="626.1" y="195.3" font-size="5.45" fill="#a8a8a8" text-anchor="middle" >SIMCA 14.1 - 2022/3/30 21:17:50 (UTC+8)</text>
<rect x="89.2" y="418.5" width="270.8" height="281" fill="#fff"/>
<path d="M116.2 418.5V699.5M152.2 418.5V699.5M188.2 418.5V699.5M224.2 418.5V699.5M260.2 418.5V699.5M296.2 418.5V699.5M332.2 418.5V699.5M89.2 643.8H360M89.2 594H360M89.2 544.2H360M89.2 494.4H360M89.2 444.6H360" stroke="#ececec" stroke-width="0.7" fill="none"/>
<path d="M223.94 691.44h4.7v4.7h-4.7ZM279.63 684.2h4.7v4.7h-4.7ZM241.65 681.69h4.7v4.7h-4.7ZM252.44 683.68h4.7v4.7h-4.7ZM221.35 684.59h4.7v4.7h-4.7ZM268.82 682.26h4.7v4.7h-4.7ZM247.26 687.97h4.7v4.7h-4.7ZM238.77 684.48h4.7v4.7h-4.7ZM205.25 690.99h4.7v4.7h-4.7ZM228.2 687.9h4.7v4.7h-4.7ZM274.05 684.61h4.7v4.7h-4.7ZM231.1 683.97h4.7v4.7h-4.7ZM201.85 686.69h4.7v4.7h-4.7ZM192.26 689.01h4.7v4.7h-4.7ZM273.23 680.44h4.7v4.7h-4.7ZM207.38 682.89h4.7v4.7h-4.7ZM189.58 682.26h4.7v4.7h-4.7ZM171.67 683.12h4.7v4.7h-4.7ZM260.62 680.84h4.7v4.7h-4.7ZM167.18 681.34h4.7v4.7h-4.7ZM225.25 683.86h4.7v4.7h-4.7ZM178.4 684.28h4.7v4.7h-4.7ZM207.53 686.96h4.7v4.7h-4.7ZM198.07 682.79h4.7v4.7h-4.7ZM203.89 680.55h4.7v4.7h-4.7ZM252.2 688.1h4.7v4.7h-4.7ZM211.33 692.66h4.7v4.7h-4.7ZM232.77 687.41h4.7v4.7h-4.7ZM214.24 687.21h4.7v4.7h-4.7ZM159.19 683.84h4.7v4.7h-4.7ZM217.01 690.68h4.7v4.7h-4.7ZM184.48 683.89h4.7v4.7h-4.7ZM283.77 681.53h4.7v4.7h-4.7ZM258.48 686.14h4.7v4.7h-4.7ZM181.54 687.69h4.7v4.7h-4.7ZM200.74 690.76h4.7v4.7h-4.7ZM244.13 684.5h4.7v4.7h-4.7ZM194.96 686.25h4.7v4.7h-4.7ZM240.69 690.98h4.7v4.7h-4.7ZM264.23 686.26h4.7v4.7h-4.7ZM217.75 685.84h4.7v4.7h-4.7ZM213.67 681.38h4.7v4.7h-4.7ZM187.92 687.17h4.7v4.7h-4.7ZM278.1 680.36h4.7v4.7h-4.7ZM233.71 691.71h4.7v4.7h-4.7ZM174.77 686.33h4.7v4.7h-4.7ZM220.18 680.15h4.7v4.7h-4.7ZM245.81 680.22h4.7v4.7h-4.7ZM193.06 680.62h4.7v4.7h-4.7ZM175.78 681.41h4.7v4.7h-4.7ZM247.87 683.61h4.7v4.7h-4.7ZM164.3 684.17h4.7v4.7h-4.7ZM236.66 680.37h4.7v4.7h-4.7ZM229.27 680.37h4.7v4.7h-4.7ZM237.31 688.84h4.7v4.7h-4.7ZM264.67 681.31h4.7v4.7h-4.7ZM243.43 688.24h4.7v4.7h-4.7ZM163.24 680.59h4.7v4.7h-4.7ZM227.75 691.81h4.7v4.7h-4.7ZM181.89 680.78h4.7v4.7h-4.7ZM254.97 680.72h4.7v4.7h-4.7ZM220.53 689.03h4.7v4.7h-4.7ZM196.25 690.5h4.7v4.7h-4.7ZM249.65 680.35h4.7v4.7h-4.7ZM268.96 686.78h4.7v4.7h-4.7ZM219.82 693.32h4.7v4.7h-4.7ZM224.03 687.65h4.7v4.7h-4.7ZM224.58 680.22h4.7v4.7h-4.7ZM168 685.5h4.7v4.7h-4.7ZM157.98 680.18h4.7v4.7h-4.7ZM210.93 685.4h4.7v4.7h-4.7ZM234.86 684.2h4.7v4.7h-4.7ZM186.24 680.25h4.7v4.7h-4.7ZM210.1 680.34h4.7v4.7h-4.7ZM236.55 689.62h4.7v4.7h-4.7ZM167.38 685.31h4.7v4.7h-4.7ZM201.67 689.99h4.7v4.7h-4.7ZM212.76 688.85h4.7v4.7h-4.7ZM262.91 681.27h4.7v4.7h-4.7ZM187.65 681.94h4.7v4.7h-4.7ZM257.92 687.12h4.7v4.7h-4.7ZM259.61 680.23h4.7v4.7h-4.7ZM274.41 682.85h4.7v4.7h-4.7ZM242.7 687h4.7v4.7h-4.7ZM171.56 685.17h4.7v4.7h-4.7Z" fill="#c8c8c8" stroke="#969696" stroke-width="0.65"/>
<path d="M97.6 423.1h4v4h-4ZM95 528.6h4v4h-4ZM106.4 607.8h4v4h-4ZM107.6 614.1h4v4h-4ZM113.9 630.3h4v4h-4ZM113.8 650.7h4v4h-4ZM122.4 663.1h4v4h-4ZM122.6 665.2h4v4h-4ZM124.8 668.8h4v4h-4ZM132.8 664.4h4v4h-4ZM137.6 664h4v4h-4ZM133.8 670.7h4v4h-4ZM147.7 661.4h4v4h-4ZM150.9 663.3h4v4h-4ZM154.3 665h4v4h-4ZM156.2 667.8h4v4h-4ZM146.5 668.2h4v4h-4ZM147.1 673.7h4v4h-4ZM152.4 674.5h4v4h-4ZM164 664.6h4v4h-4ZM176 662.8h4v4h-4ZM183.5 664.2h4v4h-4ZM182.3 567.8h4v4h-4ZM187.4 562.2h4v4h-4ZM188.4 564.7h4v4h-4ZM192 558.1h4v4h-4ZM192.5 560.7h4v4h-4ZM196 558.1h4v4h-4ZM198 558.6h4v4h-4ZM197 560.7h4v4h-4ZM190.4 570.8h4v4h-4ZM190.2 574.4h4v4h-4ZM191 577.9h4v4h-4ZM190.4 581h4v4h-4ZM193 581h4v4h-4ZM195.5 578.4h4v4h-4ZM199.6 577.9h4v4h-4ZM202.6 581h4v4h-4ZM200.6 583.5h4v4h-4ZM193 585.5h4v4h-4ZM196 585.5h4v4h-4ZM208.2 583.5h4v4h-4ZM200.6 589.1h4v4h-4ZM205.1 589.6h4v4h-4ZM209.2 591.6h4v4h-4ZM201.6 593.1h4v4h-4ZM202.6 596.7h4v4h-4ZM188.4 597.7h4v4h-4ZM193 597.7h4v4h-4ZM188.4 600.2h4v4h-4ZM194 601.2h4v4h-4ZM197.5 603.3h4v4h-4ZM202.6 601.7h4v4h-4ZM209.2 602.8h4v4h-4ZM212.8 605.3h4v4h-4ZM192.5 606.8h4v4h-4ZM195.5 609.9h4v4h-4ZM199.6 608.8h4v4h-4ZM204.1 607.8h4v4h-4ZM207.7 609.9h4v4h-4ZM211.2 608.8h4v4h-4ZM193.5 612.9h4v4h-4ZM198.6 612.9h4v4h-4ZM202.6 613.9h4v4h-4ZM206.7 613.9h4v4h-4ZM210.7 612.9h4v4h-4ZM214.8 614.4h4v4h-4ZM194 619h4v4h-4ZM198.6 617h4v4h-4ZM205.1 620h4v4h-4ZM209.7 618h4v4h-4ZM212.8 621h4v4h-4ZM194.5 626.1h4v4h-4ZM200.6 625.1h4v4h-4ZM204.6 625.1h4v4h-4ZM209.7 624h4v4h-4ZM214.3 625.6h4v4h-4ZM217.8 626.1h4v4h-4ZM163.7 664.9h4v4h-4ZM175.7 662.4h4v4h-4ZM182.7 663.6h4v4h-4ZM183.3 668.1h4v4h-4ZM188.4 670h4v4h-4ZM192.2 673.8h4v4h-4ZM196.7 677.6h4v4h-4ZM170.7 673.8h4v4h-4ZM174.5 671.2h4v4h-4ZM177 675h4v4h-4ZM183.3 676.3h4v4h-4ZM166.9 678.2h4v4h-4ZM158.3 667.4h4v4h-4ZM194 650h4v4h-4ZM204.76 655.67h4v4h-4ZM217.03 650.68h4v4h-4ZM209.38 668.03h4v4h-4ZM195.45 642.08h4v4h-4ZM211.03 628.22h4v4h-4ZM218.54 677.13h4v4h-4ZM210 658.62h4v4h-4ZM206.74 629.16h4v4h-4ZM197.95 638.82h4v4h-4ZM206.5 659.94h4v4h-4ZM204.89 640.74h4v4h-4ZM214.85 663.51h4v4h-4ZM201.2 638.17h4v4h-4ZM200.52 629.72h4v4h-4ZM212.92 647.22h4v4h-4ZM217.91 670.91h4v4h-4ZM218.49 647.06h4v4h-4ZM213.24 640.3h4v4h-4ZM218.07 666.18h4v4h-4ZM195.63 629.17h4v4h-4ZM213.72 635.42h4v4h-4ZM207.54 649.71h4v4h-4ZM198.48 646.9h4v4h-4ZM215.21 660.02h4v4h-4ZM213.09 643.43h4v4h-4ZM202.66 650.02h4v4h-4ZM207.94 671.93h4v4h-4ZM197.75 634.17h4v4h-4ZM212.23 675.84h4v4h-4ZM203.96 631.5h4v4h-4ZM208.51 641.55h4v4h-4ZM194.79 638.11h4v4h-4ZM216.85 636.81h4v4h-4ZM207.88 632.97h4v4h-4ZM218.49 660.82h4v4h-4ZM205.54 664.72h4v4h-4ZM212.16 663.3h4v4h-4ZM215.45 656.36h4v4h-4ZM209.25 646.26h4v4h-4ZM212.11 656.79h4v4h-4ZM205.5 638.2h4v4h-4ZM211.16 652.35h4v4h-4ZM208.98 674.78h4v4h-4ZM215.89 646.37h4v4h-4ZM214.76 670.98h4v4h-4ZM215.69 628.2h4v4h-4ZM193.5 633.2h4v4h-4ZM204.83 627.31h4v4h-4ZM210.8 636.57h4v4h-4ZM205.35 635.47h4v4h-4ZM200.08 644.32h4v4h-4ZM215.86 668.23h4v4h-4ZM211.77 669.37h4v4h-4ZM217.68 630.56h4v4h-4ZM214.98 673.73h4v4h-4ZM218.18 653.78h4v4h-4ZM207.9 636.65h4v4h-4ZM206.93 652.67h4v4h-4ZM200 651.08h4v4h-4ZM202.24 658.85h4v4h-4ZM216.47 642.74h4v4h-4ZM216.08 633.1h4v4h-4ZM214.85 678.49h4v4h-4ZM209 665.16h4v4h-4ZM213.23 654.13h4v4h-4ZM210 678.43h4v4h-4ZM201.46 655.08h4v4h-4ZM204.12 645.57h4v4h-4ZM213.16 630.03h4v4h-4ZM200.36 633.57h4v4h-4ZM201.26 647.18h4v4h-4ZM209.87 639.01h4v4h-4ZM202.76 634.89h4v4h-4ZM214.25 651.41h4v4h-4ZM206.24 667.79h4v4h-4ZM210.45 633.67h4v4h-4ZM217.94 657.8h4v4h-4ZM209.22 662.53h4v4h-4ZM212.71 665.84h4v4h-4ZM198.95 641.95h4v4h-4ZM182.03 673.18h4v4h-4ZM174.41 675.78h4v4h-4ZM190.24 672.22h4v4h-4ZM185.21 673.24h4v4h-4ZM169.52 669.48h4v4h-4ZM170.17 677.4h4v4h-4ZM166.24 675.92h4v4h-4ZM176.81 668.88h4v4h-4ZM186.65 670.11h4v4h-4ZM191.6 678.45h4v4h-4ZM203.44 619.93h4v4h-4ZM212.37 625.18h4v4h-4ZM201.9 605.38h4v4h-4ZM209.16 604.85h4v4h-4ZM204.19 611.81h4v4h-4ZM215.59 617.47h4v4h-4ZM215 623.79h4v4h-4ZM217.94 623.4h4v4h-4ZM208.22 622.16h4v4h-4ZM209.85 611.75h4v4h-4ZM204.59 601.76h4v4h-4ZM200.83 619.66h4v4h-4ZM202.26 614.73h4v4h-4ZM202.08 609.73h4v4h-4ZM213.1 627.86h4v4h-4ZM211.42 603.11h4v4h-4ZM206.68 625.78h4v4h-4ZM205.87 620.93h4v4h-4ZM210.67 621.13h4v4h-4ZM202.45 617.75h4v4h-4ZM210.2 616.92h4v4h-4ZM205.17 607.45h4v4h-4ZM200.55 607.65h4v4h-4ZM199.63 613.04h4v4h-4ZM212.06 607.49h4v4h-4Z" fill="#3c6cad" stroke="#2d5490" stroke-width="0.5"/>
<path d="M239.3 582.1h4v4h-4ZM229.4 597.4h4v4h-4ZM234.2 603.1h4v4h-4ZM239.3 604.6h4v4h-4ZM228.8 608.4h4v4h-4ZM239.3 613.5h4v4h-4ZM246.1 620.7h4v4h-4ZM252.4 650.6h4v4h-4ZM317.8 657.4h4v4h-4ZM310.6 667.9h4v4h-4ZM315 668.6h4v4h-4ZM292.1 667.9h4v4h-4ZM295 668.8h4v4h-4ZM297.8 670.2h4v4h-4ZM302 675.3h4v4h-4ZM300.1 676.8h4v4h-4ZM286.8 677.4h4v4h-4ZM293.1 678.2h4v4h-4ZM276.6 673h4v4h-4ZM272.2 676.3h4v4h-4ZM273.1 677.8h4v4h-4ZM256 674h4v4h-4ZM258.9 674.3h4v4h-4ZM262.7 676.8h4v4h-4ZM252.2 677.2h4v4h-4ZM229.5 597.2h4v4h-4ZM234 603.3h4v4h-4ZM255.6 673.8h4v4h-4ZM251.8 676.9h4v4h-4ZM244 618h4v4h-4ZM247 626h4v4h-4ZM249 638h4v4h-4ZM248 648h4v4h-4ZM250 658h4v4h-4ZM229.03 659.97h4v4h-4ZM239.39 675.18h4v4h-4ZM232.15 631.37h4v4h-4ZM240.95 657.14h4v4h-4ZM232.76 658.79h4v4h-4ZM234.54 664.76h4v4h-4ZM229.25 629.29h4v4h-4ZM244.13 637.91h4v4h-4ZM231.95 666.47h4v4h-4ZM239 624.58h4v4h-4ZM237.48 657.5h4v4h-4ZM230.13 656.71h4v4h-4ZM229.34 636.57h4v4h-4ZM245.58 640.84h4v4h-4ZM238.54 670.85h4v4h-4ZM240.05 622.14h4v4h-4ZM230.44 621.06h4v4h-4ZM243.62 647.88h4v4h-4ZM230.68 643.97h4v4h-4ZM236.51 621.56h4v4h-4ZM242.54 620.73h4v4h-4ZM232.33 616.79h4v4h-4ZM237.16 644.13h4v4h-4ZM236.02 630.12h4v4h-4ZM228.26 624.17h4v4h-4ZM240.37 651.57h4v4h-4ZM233.6 651.44h4v4h-4ZM244.84 631.87h4v4h-4ZM232.74 627.08h4v4h-4ZM231.87 639.83h4v4h-4ZM232.37 674.91h4v4h-4ZM231.72 653.65h4v4h-4ZM241.47 638.6h4v4h-4ZM237.66 653.13h4v4h-4ZM236.65 668.85h4v4h-4ZM245.24 649.94h4v4h-4ZM241.7 635.12h4v4h-4ZM244.39 654.21h4v4h-4ZM235.91 636.72h4v4h-4ZM235.5 649.86h4v4h-4ZM231.22 624.38h4v4h-4ZM239.69 629.21h4v4h-4ZM227.88 641.02h4v4h-4ZM228.84 670.47h4v4h-4ZM235.1 677.76h4v4h-4ZM234.56 643.51h4v4h-4ZM235.41 672.64h4v4h-4ZM237.96 665.84h4v4h-4ZM243.37 645.47h4v4h-4ZM237.61 616.79h4v4h-4ZM240.37 626.75h4v4h-4ZM233.62 646.87h4v4h-4ZM227.45 647.46h4v4h-4ZM227.29 634.54h4v4h-4ZM244.06 626h4v4h-4ZM241.72 643.06h4v4h-4ZM241.64 663.9h4v4h-4ZM228.46 667.64h4v4h-4ZM242.6 630.47h4v4h-4ZM237.23 663.12h4v4h-4ZM228.53 662.7h4v4h-4ZM228.72 650.62h4v4h-4ZM231.38 672.7h4v4h-4ZM235.95 639.7h4v4h-4ZM235.1 626.42h4v4h-4ZM229.91 675.37h4v4h-4ZM236.54 675.53h4v4h-4ZM235.64 660.51h4v4h-4ZM239.18 677.72h4v4h-4ZM245.47 635.79h4v4h-4ZM235.06 633.61h4v4h-4ZM233.84 670.06h4v4h-4ZM240.79 668.24h4v4h-4ZM244.95 657.46h4v4h-4ZM228.62 678.84h4v4h-4ZM227 637.83h4v4h-4ZM238.49 639.4h4v4h-4ZM234.25 623.35h4v4h-4ZM242.59 659.01h4v4h-4ZM232.31 635.39h4v4h-4ZM230.77 646.43h4v4h-4ZM240.01 649.01h4v4h-4ZM242.28 670.92h4v4h-4ZM231.28 662.13h4v4h-4ZM229.72 618.7h4v4h-4ZM245.88 644.82h4v4h-4ZM238.7 660.54h4v4h-4ZM229.84 664.87h4v4h-4ZM237.96 619.49h4v4h-4ZM230.34 633.21h4v4h-4ZM244.97 628.4h4v4h-4ZM244.37 663.23h4v4h-4ZM237.35 647.65h4v4h-4ZM227.36 657.43h4v4h-4ZM240.69 646.01h4v4h-4ZM237.58 627.36h4v4h-4ZM233.6 637.58h4v4h-4ZM228.02 655.05h4v4h-4ZM240.92 618h4v4h-4ZM242.29 666.35h4v4h-4ZM233.73 655.06h4v4h-4ZM231.93 649.51h4v4h-4ZM235.39 619.14h4v4h-4ZM239.4 642.35h4v4h-4ZM239.75 654.93h4v4h-4Z" fill="#d42f2a" stroke="#a52220" stroke-width="0.5"/>
<path d="M220.08 653.54h4v4h-4ZM220.23 662.23h4v4h-4ZM219.03 644.8h4v4h-4ZM220.01 636.96h4v4h-4ZM221.23 645.2h4v4h-4ZM221.37 676.85h4v4h-4ZM219.76 673.78h4v4h-4ZM219.77 668.6h4v4h-4Z" fill="#acd4ea" stroke="#7fa9c2" stroke-width="0.5"/>
<path d="M226.34 626.62h4v4h-4ZM225.31 634.37h4v4h-4ZM225.96 662.11h4v4h-4ZM225.86 678.99h4v4h-4ZM223.08 643.92h4v4h-4ZM225.19 640.87h4v4h-4ZM223.18 638.12h4v4h-4ZM225.86 672.35h4v4h-4ZM225.59 637.84h4v4h-4ZM226.16 653.1h4v4h-4ZM223.04 650.14h4v4h-4ZM223.89 630.18h4v4h-4ZM224.56 675.3h4v4h-4ZM224.91 647.47h4v4h-4ZM225.99 631.29h4v4h-4ZM224.11 670.55h4v4h-4ZM226.27 644.75h4v4h-4ZM226.08 668.2h4v4h-4ZM222.19 673.38h4v4h-4ZM225.5 657.45h4v4h-4Z" fill="#f4ab5c" stroke="#c78440" stroke-width="0.5"/>
<path d="M220.31 418.5V699.5M228.09 418.5V699.5M89.2 681.15H360" stroke="#3fa83f" stroke-width="1" fill="none"/>
<rect x="89.2" y="418.5" width="270.8" height="281" fill="none" stroke="#8a8a8a" stroke-width="1.5"/>
<path d="M116.2 699.5v2.8M152.2 699.5v2.8M188.2 699.5v2.8M224.2 699.5v2.8M260.2 699.5v2.8M296.2 699.5v2.8M332.2 699.5v2.8M89.2 643.8h-2.8M89.2 594h-2.8M89.2 544.2h-2.8M89.2 494.4h-2.8M89.2 444.6h-2.8" stroke="#8a8a8a" stroke-width="0.9" fill="none"/>
<text x="116.2" y="711.5" font-size="7.2" fill="#444" text-anchor="middle" >−15</text>
<text x="152.2" y="711.5" font-size="7.2" fill="#444" text-anchor="middle" >−10</text>
<text x="188.2" y="711.5" font-size="7.2" fill="#444" text-anchor="middle" >−5</text>
<text x="224.2" y="711.5" font-size="7.2" fill="#444" text-anchor="middle" >0</text>
<text x="260.2" y="711.5" font-size="7.2" fill="#444" text-anchor="middle" >5</text>
<text x="296.2" y="711.5" font-size="7.2" fill="#444" text-anchor="middle" >10</text>
<text x="332.2" y="711.5" font-size="7.2" fill="#444" text-anchor="middle" >15</text>
<text x="83.6" y="646.4" font-size="7.2" fill="#444" text-anchor="end" >5</text>
<text x="83.6" y="596.6" font-size="7.2" fill="#444" text-anchor="end" >10</text>
<text x="83.6" y="546.8" font-size="7.2" fill="#444" text-anchor="end" >15</text>
<text x="83.6" y="497" font-size="7.2" fill="#444" text-anchor="end" >20</text>
<text x="83.6" y="447.2" font-size="7.2" fill="#444" text-anchor="end" >25</text>
<text x="224.3" y="740.6" font-size="7.2" fill="#444" text-anchor="middle" >log2(Fold change)</text>
<text x="0" y="0" font-size="7.55" fill="#444" text-anchor="middle" transform="translate(60.2 553.7) rotate(-90)">-log10(correctedPValue)</text>
<rect x="401.8" y="418.1" width="272.7" height="281.4" fill="#fff"/>
<path d="M407.5 418.1V699.5M472.6 418.1V699.5M537.7 418.1V699.5M602.8 418.1V699.5M667.9 418.1V699.5M401.8 630.15H674.5M401.8 566.8H674.5M401.8 503.45H674.5M401.8 440.1H674.5" stroke="#ececec" stroke-width="0.7" fill="none"/>
<path d="M408.5 592.9h4.6v4.6h-4.6ZM661.9 630.8h4.6v4.6h-4.6ZM443 656.7h4.6v4.6h-4.6ZM458.1 656.7h4.6v4.6h-4.6ZM463.3 656.7h4.6v4.6h-4.6ZM477.5 658h4.6v4.6h-4.6ZM482.2 656.3h4.6v4.6h-4.6ZM468.9 664h4.6v4.6h-4.6ZM487 664h4.6v4.6h-4.6ZM468.9 674.8h4.6v4.6h-4.6ZM473.2 668.3h4.6v4.6h-4.6ZM589.5 653.7h4.6v4.6h-4.6ZM605.9 653.7h4.6v4.6h-4.6ZM615.4 653.7h4.6v4.6h-4.6ZM635.6 653.7h4.6v4.6h-4.6ZM641.3 654.5h4.6v4.6h-4.6ZM647.3 653.7h4.6v4.6h-4.6ZM608.5 663.2h4.6v4.6h-4.6ZM621.9 670h4.6v4.6h-4.6ZM593.6 668.3h4.6v4.6h-4.6ZM582.2 676.9h4.6v4.6h-4.6ZM599.4 675.6h4.6v4.6h-4.6ZM574 656.7h4.6v4.6h-4.6ZM521 547.7h4.6v4.6h-4.6ZM530.1 548.7h4.6v4.6h-4.6ZM530.7 551.2h4.6v4.6h-4.6ZM540.3 548.2h4.6v4.6h-4.6ZM545.4 551.2h4.6v4.6h-4.6ZM539.3 554.3h4.6v4.6h-4.6ZM541.3 553.8h4.6v4.6h-4.6ZM528.1 560.9h4.6v4.6h-4.6ZM540.8 563.9h4.6v4.6h-4.6ZM533.7 566h4.6v4.6h-4.6ZM532.2 574.3h4.6v4.6h-4.6ZM527.1 583h4.6v4.6h-4.6ZM533.2 583h4.6v4.6h-4.6ZM516 590.5h4.6v4.6h-4.6ZM526.6 590.5h4.6v4.6h-4.6ZM532.2 590.3h4.6v4.6h-4.6ZM532.7 586.7h4.6v4.6h-4.6ZM533.2 593.8h4.6v4.6h-4.6ZM540.3 590.5h4.6v4.6h-4.6ZM545.4 590.5h4.6v4.6h-4.6ZM549.9 590.5h4.6v4.6h-4.6ZM533.2 597.4h4.6v4.6h-4.6ZM539.3 599.9h4.6v4.6h-4.6ZM544.8 599.9h4.6v4.6h-4.6ZM530.1 600.4h4.6v4.6h-4.6ZM527.1 605h4.6v4.6h-4.6ZM531.2 605.5h4.6v4.6h-4.6ZM539.3 605h4.6v4.6h-4.6ZM545.4 605h4.6v4.6h-4.6ZM550.4 605h4.6v4.6h-4.6ZM529.7 608.5h4.6v4.6h-4.6ZM533.7 607.5h4.6v4.6h-4.6ZM546.4 608.5h4.6v4.6h-4.6ZM540.8 612.6h4.6v4.6h-4.6ZM557.5 613.6h4.6v4.6h-4.6ZM521 619.7h4.6v4.6h-4.6ZM525.1 617.7h4.6v4.6h-4.6ZM530.1 617.7h4.6v4.6h-4.6ZM533.2 617.7h4.6v4.6h-4.6ZM539.3 617.7h4.6v4.6h-4.6ZM546.4 617.7h4.6v4.6h-4.6ZM553 617.7h4.6v4.6h-4.6ZM560.6 617.7h4.6v4.6h-4.6ZM531.2 620.7h4.6v4.6h-4.6ZM538.3 623.7h4.6v4.6h-4.6ZM549.9 619.7h4.6v4.6h-4.6ZM551.9 625.8h4.6v4.6h-4.6ZM459.7 656.4h4.6v4.6h-4.6ZM463.4 656.4h4.6v4.6h-4.6ZM478 657.4h4.6v4.6h-4.6ZM482 656.4h4.6v4.6h-4.6ZM487.1 663.5h4.6v4.6h-4.6ZM493.8 662.5h4.6v4.6h-4.6ZM512.9 653.7h4.6v4.6h-4.6ZM468.9 674.7h4.6v4.6h-4.6ZM473.9 668.1h4.6v4.6h-4.6ZM481.7 671h4.6v4.6h-4.6ZM486.1 676.3h4.6v4.6h-4.6ZM492.2 675.7h4.6v4.6h-4.6ZM500.3 669.6h4.6v4.6h-4.6ZM506.4 671.6h4.6v4.6h-4.6ZM498.3 676.7h4.6v4.6h-4.6ZM506.4 682.7h4.6v4.6h-4.6ZM568.9 660h4.6v4.6h-4.6ZM576 656.4h4.6v4.6h-4.6ZM590 653.9h4.6v4.6h-4.6ZM606.2 653.9h4.6v4.6h-4.6ZM614.3 653.9h4.6v4.6h-4.6ZM608.2 662.9h4.6v4.6h-4.6ZM568.9 665.1h4.6v4.6h-4.6ZM574.3 664.5h4.6v4.6h-4.6ZM585.5 669.6h4.6v4.6h-4.6ZM592.6 668.6h4.6v4.6h-4.6ZM597.3 668.1h4.6v4.6h-4.6ZM599.7 676.3h4.6v4.6h-4.6ZM583.5 676.3h4.6v4.6h-4.6ZM589.5 675.7h4.6v4.6h-4.6ZM565.2 670.6h4.6v4.6h-4.6ZM572.3 669.6h4.6v4.6h-4.6ZM575.3 676.7h4.6v4.6h-4.6ZM524.7 539.7h4.6v4.6h-4.6ZM530.7 537.7h4.6v4.6h-4.6ZM534.7 543.7h4.6v4.6h-4.6ZM538.7 540.7h4.6v4.6h-4.6ZM545.7 542.7h4.6v4.6h-4.6ZM528.7 535.7h4.6v4.6h-4.6ZM536.7 534.7h4.6v4.6h-4.6ZM527.98 672.05h4.6v4.6h-4.6ZM543.02 656.67h4.6v4.6h-4.6ZM529.61 679.56h4.6v4.6h-4.6ZM548.55 659.11h4.6v4.6h-4.6ZM538.86 638.93h4.6v4.6h-4.6ZM522.8 648.79h4.6v4.6h-4.6ZM541.43 626.76h4.6v4.6h-4.6ZM548.1 638.65h4.6v4.6h-4.6ZM530.15 624.79h4.6v4.6h-4.6ZM550.7 666.66h4.6v4.6h-4.6ZM523.79 645.71h4.6v4.6h-4.6ZM538.62 630.15h4.6v4.6h-4.6ZM553.16 648.6h4.6v4.6h-4.6ZM527.65 681.38h4.6v4.6h-4.6ZM537.2 662h4.6v4.6h-4.6ZM533.67 657.08h4.6v4.6h-4.6ZM550.41 638.85h4.6v4.6h-4.6ZM546.85 677.38h4.6v4.6h-4.6ZM541.28 674.97h4.6v4.6h-4.6ZM526.62 656.47h4.6v4.6h-4.6ZM549.16 636.38h4.6v4.6h-4.6ZM535.81 648.36h4.6v4.6h-4.6ZM537.14 649.86h4.6v4.6h-4.6ZM538.57 657.58h4.6v4.6h-4.6ZM529.81 666.15h4.6v4.6h-4.6ZM540.51 667.15h4.6v4.6h-4.6ZM528.48 634.12h4.6v4.6h-4.6ZM533.84 689.38h4.6v4.6h-4.6ZM533.79 665.3h4.6v4.6h-4.6ZM532.51 629.24h4.6v4.6h-4.6ZM547.56 649.07h4.6v4.6h-4.6ZM544.57 671.04h4.6v4.6h-4.6ZM535.72 693.91h4.6v4.6h-4.6ZM553.47 664.81h4.6v4.6h-4.6ZM550.96 657.54h4.6v4.6h-4.6ZM534.72 639.75h4.6v4.6h-4.6ZM550.74 633.55h4.6v4.6h-4.6ZM547.47 656.97h4.6v4.6h-4.6ZM530.96 642.86h4.6v4.6h-4.6ZM536.13 634.16h4.6v4.6h-4.6ZM530.77 691.7h4.6v4.6h-4.6ZM549.52 679.75h4.6v4.6h-4.6ZM536.33 664.12h4.6v4.6h-4.6ZM549.88 644.18h4.6v4.6h-4.6ZM539.8 641.85h4.6v4.6h-4.6ZM544.63 691.34h4.6v4.6h-4.6ZM543.3 683.87h4.6v4.6h-4.6ZM541.4 640.48h4.6v4.6h-4.6ZM535.68 691.69h4.6v4.6h-4.6ZM551.68 631.45h4.6v4.6h-4.6ZM525.73 628.56h4.6v4.6h-4.6ZM523.51 654.32h4.6v4.6h-4.6ZM527.21 685.02h4.6v4.6h-4.6ZM543.67 630.94h4.6v4.6h-4.6ZM539.94 645.37h4.6v4.6h-4.6ZM534.79 673.53h4.6v4.6h-4.6ZM540.3 625.07h4.6v4.6h-4.6ZM545.45 685.49h4.6v4.6h-4.6ZM547.48 679.42h4.6v4.6h-4.6ZM524.73 677.47h4.6v4.6h-4.6ZM530.79 672.56h4.6v4.6h-4.6ZM532.74 624.76h4.6v4.6h-4.6ZM535.14 644.29h4.6v4.6h-4.6ZM541.94 658.8h4.6v4.6h-4.6ZM539.53 662.63h4.6v4.6h-4.6ZM532.88 694.2h4.6v4.6h-4.6ZM547.02 654.41h4.6v4.6h-4.6ZM542.58 623.14h4.6v4.6h-4.6ZM543.33 654.01h4.6v4.6h-4.6ZM539.26 650.13h4.6v4.6h-4.6ZM548.85 674.53h4.6v4.6h-4.6ZM538.44 674.05h4.6v4.6h-4.6ZM551.2 678.6h4.6v4.6h-4.6ZM542.76 677.07h4.6v4.6h-4.6ZM530.55 688.62h4.6v4.6h-4.6ZM532.7 644.46h4.6v4.6h-4.6ZM535.22 632.32h4.6v4.6h-4.6ZM545.23 636.72h4.6v4.6h-4.6ZM533.43 668.54h4.6v4.6h-4.6ZM544.51 640.74h4.6v4.6h-4.6ZM553.14 645.21h4.6v4.6h-4.6ZM530.84 683.41h4.6v4.6h-4.6ZM531.58 649.37h4.6v4.6h-4.6ZM552.8 655.79h4.6v4.6h-4.6ZM536.68 666.75h4.6v4.6h-4.6ZM531.68 634.43h4.6v4.6h-4.6ZM552.61 673.14h4.6v4.6h-4.6ZM523.96 666.07h4.6v4.6h-4.6ZM525.72 644.25h4.6v4.6h-4.6ZM537.23 687h4.6v4.6h-4.6ZM548.03 681.73h4.6v4.6h-4.6ZM528.7 651.12h4.6v4.6h-4.6ZM548.79 665.98h4.6v4.6h-4.6ZM548.3 646.37h4.6v4.6h-4.6ZM524.86 659.06h4.6v4.6h-4.6ZM527.76 629.3h4.6v4.6h-4.6ZM552.49 661.01h4.6v4.6h-4.6ZM545.99 659.99h4.6v4.6h-4.6ZM533.97 660.58h4.6v4.6h-4.6ZM542.8 634.41h4.6v4.6h-4.6ZM545.41 657.75h4.6v4.6h-4.6ZM548.52 687.86h4.6v4.6h-4.6ZM539.76 688.02h4.6v4.6h-4.6ZM550.95 648.15h4.6v4.6h-4.6ZM525.35 651.31h4.6v4.6h-4.6ZM528.4 661.11h4.6v4.6h-4.6ZM526.63 639.22h4.6v4.6h-4.6ZM539.91 655.19h4.6v4.6h-4.6ZM541.47 680.3h4.6v4.6h-4.6ZM546.27 675.05h4.6v4.6h-4.6ZM535.3 621.97h4.6v4.6h-4.6ZM543.96 664.15h4.6v4.6h-4.6ZM541.15 694.53h4.6v4.6h-4.6ZM529 638.29h4.6v4.6h-4.6ZM538.15 625.71h4.6v4.6h-4.6ZM534.55 682.02h4.6v4.6h-4.6ZM541.85 672.29h4.6v4.6h-4.6ZM550.39 676.54h4.6v4.6h-4.6ZM552.4 636.21h4.6v4.6h-4.6ZM549.3 641.03h4.6v4.6h-4.6ZM544.54 643.29h4.6v4.6h-4.6ZM534.48 635.81h4.6v4.6h-4.6ZM544.98 651.9h4.6v4.6h-4.6ZM545.89 665.11h4.6v4.6h-4.6ZM543.06 668.11h4.6v4.6h-4.6ZM546.86 668.11h4.6v4.6h-4.6ZM537.32 659.21h4.6v4.6h-4.6ZM541.48 664.26h4.6v4.6h-4.6ZM529.77 629.86h4.6v4.6h-4.6ZM535.67 677.24h4.6v4.6h-4.6ZM525.78 636.57h4.6v4.6h-4.6ZM539.35 670.14h4.6v4.6h-4.6ZM534.14 678.99h4.6v4.6h-4.6ZM527.95 646.58h4.6v4.6h-4.6ZM524.41 642.67h4.6v4.6h-4.6ZM526.29 670.02h4.6v4.6h-4.6ZM536.86 638.61h4.6v4.6h-4.6ZM534.67 684.86h4.6v4.6h-4.6ZM536.3 672.13h4.6v4.6h-4.6ZM540.51 648.26h4.6v4.6h-4.6ZM524.32 684.24h4.6v4.6h-4.6ZM493.48 683.63h4.6v4.6h-4.6ZM498.78 673.2h4.6v4.6h-4.6ZM514.2 682.08h4.6v4.6h-4.6ZM522.06 684.08h4.6v4.6h-4.6ZM524.36 685.74h4.6v4.6h-4.6ZM512.54 687.69h4.6v4.6h-4.6ZM515.31 688.34h4.6v4.6h-4.6ZM516.07 679.85h4.6v4.6h-4.6ZM521.79 687.12h4.6v4.6h-4.6ZM502.95 675.85h4.6v4.6h-4.6ZM520.74 686.71h4.6v4.6h-4.6ZM523.65 689.29h4.6v4.6h-4.6ZM524.42 687.8h4.6v4.6h-4.6ZM515.75 685.34h4.6v4.6h-4.6ZM501.23 685.02h4.6v4.6h-4.6ZM503.01 683.28h4.6v4.6h-4.6ZM524.2 688.43h4.6v4.6h-4.6ZM497.39 682.24h4.6v4.6h-4.6ZM514.73 680.65h4.6v4.6h-4.6ZM494.32 677.17h4.6v4.6h-4.6ZM493.76 682.64h4.6v4.6h-4.6ZM509.41 682.19h4.6v4.6h-4.6ZM506.21 682.79h4.6v4.6h-4.6ZM522.94 685.09h4.6v4.6h-4.6ZM505.03 681.47h4.6v4.6h-4.6ZM502.51 680.79h4.6v4.6h-4.6ZM510.62 681.69h4.6v4.6h-4.6ZM514.92 684.21h4.6v4.6h-4.6ZM495.61 684.13h4.6v4.6h-4.6ZM504.44 679.42h4.6v4.6h-4.6ZM505.99 685.93h4.6v4.6h-4.6ZM524.12 687.25h4.6v4.6h-4.6ZM505.92 675.95h4.6v4.6h-4.6ZM522.25 683.64h4.6v4.6h-4.6ZM580.52 684.21h4.6v4.6h-4.6ZM579.58 671.32h4.6v4.6h-4.6ZM570.87 679.67h4.6v4.6h-4.6ZM569.07 676.49h4.6v4.6h-4.6ZM559.27 684.14h4.6v4.6h-4.6ZM560.11 683.95h4.6v4.6h-4.6ZM554.42 682.25h4.6v4.6h-4.6ZM574.29 678.38h4.6v4.6h-4.6ZM568.57 684.54h4.6v4.6h-4.6ZM564.11 677.71h4.6v4.6h-4.6ZM576.41 680.05h4.6v4.6h-4.6ZM572.78 681.69h4.6v4.6h-4.6ZM581.85 674.7h4.6v4.6h-4.6ZM575.73 677.1h4.6v4.6h-4.6ZM570.29 683.03h4.6v4.6h-4.6ZM562.82 678.61h4.6v4.6h-4.6ZM567.45 684.67h4.6v4.6h-4.6ZM570.83 680h4.6v4.6h-4.6ZM572.33 675.82h4.6v4.6h-4.6ZM558.88 682.94h4.6v4.6h-4.6ZM577.36 673.93h4.6v4.6h-4.6ZM557.01 681.26h4.6v4.6h-4.6ZM554.83 684.01h4.6v4.6h-4.6ZM570.31 685.16h4.6v4.6h-4.6ZM563.29 681.79h4.6v4.6h-4.6ZM562.07 681.49h4.6v4.6h-4.6ZM576.25 679.52h4.6v4.6h-4.6ZM561.19 679.56h4.6v4.6h-4.6ZM576.43 681.76h4.6v4.6h-4.6ZM577.73 674.41h4.6v4.6h-4.6ZM544.93 622.57h4.6v4.6h-4.6ZM530.94 617.17h4.6v4.6h-4.6ZM528.18 619.95h4.6v4.6h-4.6ZM545.26 620.21h4.6v4.6h-4.6ZM537.62 623.4h4.6v4.6h-4.6ZM545.66 609.91h4.6v4.6h-4.6ZM533.92 626.2h4.6v4.6h-4.6ZM534.53 605.47h4.6v4.6h-4.6ZM540.34 607.44h4.6v4.6h-4.6ZM548.91 604.23h4.6v4.6h-4.6ZM528.23 611.52h4.6v4.6h-4.6ZM529.87 600.28h4.6v4.6h-4.6ZM538.65 617.15h4.6v4.6h-4.6ZM546.36 612.73h4.6v4.6h-4.6ZM543.21 608.22h4.6v4.6h-4.6ZM532.46 601.64h4.6v4.6h-4.6ZM541.21 609.61h4.6v4.6h-4.6ZM535.73 597.55h4.6v4.6h-4.6ZM537.87 605.7h4.6v4.6h-4.6ZM537.82 620.15h4.6v4.6h-4.6Z" fill="#c8c8c8" stroke="#969696" stroke-width="0.65"/>
<path d="M525.2 421.7h4v4h-4ZM528.2 435.9h4v4h-4ZM526.1 482.9h4v4h-4Z" fill="#3c6cad" stroke="#2d5490" stroke-width="0.5"/>
<path d="M528.6 475.6h4v4h-4ZM531.2 518.7h4v4h-4Z" fill="#acd4ea" stroke="#7fa9c2" stroke-width="0.5"/>
<path d="M548.5 421.7h4v4h-4ZM544.2 468.2h4v4h-4Z" fill="#d42f2a" stroke="#a52220" stroke-width="0.5"/>
<path d="M543.3 518.7h4v4h-4Z" fill="#f4ab5c" stroke="#c78440" stroke-width="0.5"/>
<path d="M530.28 418.1V699.5M545.12 418.1V699.5M401.8 529.3H674.5" stroke="#3fa83f" stroke-width="1" fill="none"/>
<rect x="401.8" y="418.1" width="272.7" height="281.4" fill="none" stroke="#8a8a8a" stroke-width="1.5"/>
<path d="M407.5 699.5v2.8M472.6 699.5v2.8M537.7 699.5v2.8M602.8 699.5v2.8M667.9 699.5v2.8M401.8 630.15h-2.8M401.8 566.8h-2.8M401.8 503.45h-2.8M401.8 440.1h-2.8" stroke="#8a8a8a" stroke-width="0.9" fill="none"/>
<text x="407.5" y="711.5" font-size="7.2" fill="#444" text-anchor="middle" >−10</text>
<text x="472.6" y="711.5" font-size="7.2" fill="#444" text-anchor="middle" >−5</text>
<text x="537.7" y="711.5" font-size="7.2" fill="#444" text-anchor="middle" >0</text>
<text x="602.8" y="711.5" font-size="7.2" fill="#444" text-anchor="middle" >5</text>
<text x="667.9" y="711.5" font-size="7.2" fill="#444" text-anchor="middle" >10</text>
<text x="396.2" y="632.75" font-size="7.2" fill="#444" text-anchor="end" >0.5</text>
<text x="396.2" y="569.4" font-size="7.2" fill="#444" text-anchor="end" >1</text>
<text x="396.2" y="506.05" font-size="7.2" fill="#444" text-anchor="end" >1.5</text>
<text x="396.2" y="442.7" font-size="7.2" fill="#444" text-anchor="end" >2</text>
<text x="537.7" y="740.2" font-size="7.2" fill="#444" text-anchor="middle" >log2(Fold change)</text>
<text x="0" y="0" font-size="7.55" fill="#444" text-anchor="middle" transform="translate(372.3 550.8) rotate(-90)">-log10(correctedPValue)</text>
<rect x="97.7" y="784.1" width="265.8" height="269.2" fill="#fff"/>
<path d="M130.05 784.1V1053.3M163.5 784.1V1053.3M196.95 784.1V1053.3M230.4 784.1V1053.3M263.85 784.1V1053.3M297.3 784.1V1053.3M330.75 784.1V1053.3M97.7 996.35H363.5M97.7 944.6H363.5M97.7 892.85H363.5M97.7 841.1H363.5M97.7 789.35H363.5" stroke="#ececec" stroke-width="0.7" fill="none"/>
<path d="M254.31 1033.62h4.6v4.6h-4.6ZM248.96 1037.92h4.6v4.6h-4.6ZM238.14 1033.87h4.6v4.6h-4.6ZM254.41 1041.51h4.6v4.6h-4.6ZM212.3 1038.07h4.6v4.6h-4.6ZM259.99 1039.08h4.6v4.6h-4.6ZM270.73 1033.61h4.6v4.6h-4.6ZM190.59 1036.67h4.6v4.6h-4.6ZM220.62 1043.13h4.6v4.6h-4.6ZM249.82 1041.08h4.6v4.6h-4.6ZM205.09 1038.66h4.6v4.6h-4.6ZM278.27 1033.26h4.6v4.6h-4.6ZM243.61 1032.56h4.6v4.6h-4.6ZM219.65 1034.67h4.6v4.6h-4.6ZM236.32 1046.4h4.6v4.6h-4.6ZM250.8 1033.57h4.6v4.6h-4.6ZM238.39 1039.55h4.6v4.6h-4.6ZM243.24 1040.63h4.6v4.6h-4.6ZM215.92 1035.21h4.6v4.6h-4.6ZM284.21 1032.92h4.6v4.6h-4.6ZM214.16 1032.27h4.6v4.6h-4.6ZM229.38 1037.36h4.6v4.6h-4.6ZM186.59 1034.42h4.6v4.6h-4.6ZM201.01 1043.2h4.6v4.6h-4.6ZM200.07 1035.81h4.6v4.6h-4.6ZM193.86 1039.61h4.6v4.6h-4.6ZM208.89 1042.65h4.6v4.6h-4.6ZM231.01 1040.51h4.6v4.6h-4.6ZM198.7 1039.87h4.6v4.6h-4.6ZM264.61 1033.42h4.6v4.6h-4.6ZM234.17 1036.61h4.6v4.6h-4.6ZM266.17 1038.36h4.6v4.6h-4.6ZM228.15 1042.16h4.6v4.6h-4.6ZM197.55 1033.68h4.6v4.6h-4.6ZM206.58 1033.96h4.6v4.6h-4.6ZM226.9 1046.09h4.6v4.6h-4.6ZM241.62 1036.64h4.6v4.6h-4.6ZM242.01 1044.45h4.6v4.6h-4.6ZM194.61 1035.9h4.6v4.6h-4.6ZM217.96 1041.03h4.6v4.6h-4.6ZM226.65 1034h4.6v4.6h-4.6ZM244.91 1036.96h4.6v4.6h-4.6ZM253.27 1037.16h4.6v4.6h-4.6ZM191.55 1033h4.6v4.6h-4.6ZM208.7 1038.33h4.6v4.6h-4.6ZM204.9 1041.86h4.6v4.6h-4.6ZM257.61 1034.46h4.6v4.6h-4.6ZM235.02 1043.12h4.6v4.6h-4.6ZM196.18 1042.47h4.6v4.6h-4.6ZM183.79 1032.2h4.6v4.6h-4.6ZM215.16 1045.47h4.6v4.6h-4.6ZM230.76 1033.48h4.6v4.6h-4.6ZM273.49 1035.29h4.6v4.6h-4.6ZM224.38 1042.44h4.6v4.6h-4.6ZM247.41 1043.94h4.6v4.6h-4.6ZM211.01 1045.36h4.6v4.6h-4.6ZM223.36 1034.01h4.6v4.6h-4.6ZM209.99 1033.32h4.6v4.6h-4.6ZM230.54 1047.04h4.6v4.6h-4.6ZM214.11 1041.67h4.6v4.6h-4.6ZM269.9 1037.12h4.6v4.6h-4.6ZM202.15 1032.56h4.6v4.6h-4.6ZM261.04 1035.57h4.6v4.6h-4.6ZM234.36 1032.77h4.6v4.6h-4.6ZM220.71 1046.63h4.6v4.6h-4.6ZM258.46 1041.99h4.6v4.6h-4.6ZM225.48 1039.16h4.6v4.6h-4.6ZM247 1033.51h4.6v4.6h-4.6ZM222.48 1037.16h4.6v4.6h-4.6ZM261.57 1032.23h4.6v4.6h-4.6ZM238.3 1043.18h4.6v4.6h-4.6ZM234.48 1039.95h4.6v4.6h-4.6ZM281.94 1035.26h4.6v4.6h-4.6ZM219.15 1037.98h4.6v4.6h-4.6ZM187.49 1037.52h4.6v4.6h-4.6ZM267.58 1034.78h4.6v4.6h-4.6ZM256.86 1038.07h4.6v4.6h-4.6ZM203.38 1035.57h4.6v4.6h-4.6ZM246.54 1040.33h4.6v4.6h-4.6ZM287.44 1032.51h4.6v4.6h-4.6ZM206.33 1044.89h4.6v4.6h-4.6ZM190.51 1039.99h4.6v4.6h-4.6ZM275 1032.24h4.6v4.6h-4.6ZM231.46 1043.8h4.6v4.6h-4.6ZM263.13 1039.76h4.6v4.6h-4.6ZM215.78 1038.51h4.6v4.6h-4.6ZM201.91 1040.07h4.6v4.6h-4.6ZM251.5 1043.97h4.6v4.6h-4.6ZM246.31 1044.27h4.6v4.6h-4.6ZM221.79 1032.66h4.6v4.6h-4.6ZM236.97 1035.24h4.6v4.6h-4.6ZM251.23 1040.92h4.6v4.6h-4.6ZM204.79 1035.75h4.6v4.6h-4.6ZM218.82 1033.28h4.6v4.6h-4.6ZM212.75 1035h4.6v4.6h-4.6ZM249.95 1033.57h4.6v4.6h-4.6ZM232.55 1042.14h4.6v4.6h-4.6ZM260.95 1037.08h4.6v4.6h-4.6ZM206.72 1041.56h4.6v4.6h-4.6ZM260.26 1035.41h4.6v4.6h-4.6ZM204.36 1044.61h4.6v4.6h-4.6ZM230.44 1045.64h4.6v4.6h-4.6ZM224 1032.23h4.6v4.6h-4.6ZM230.81 1037.93h4.6v4.6h-4.6ZM255.44 1042.32h4.6v4.6h-4.6Z" fill="#c8c8c8" stroke="#969696" stroke-width="0.65"/>
<path d="M106.7 813.8h4v4h-4ZM111.1 832.1h4v4h-4ZM119.2 793.1h4v4h-4ZM120 802.5h4v4h-4ZM133.8 787.5h4v4h-4ZM141.1 793.1h4v4h-4ZM137.5 798.4h4v4h-4ZM133.4 802.5h4v4h-4ZM140.3 803.7h4v4h-4ZM145.6 809.8h4v4h-4ZM125.3 818.7h4v4h-4ZM122.5 824.8h4v4h-4ZM131 819.9h4v4h-4ZM135.1 822.8h4v4h-4ZM136.3 828h4v4h-4ZM133 828.8h4v4h-4ZM139.1 828h4v4h-4ZM131.4 833.7h4v4h-4ZM137.9 837h4v4h-4ZM133.4 839.8h4v4h-4ZM121.3 842.2h4v4h-4ZM136.3 846.3h4v4h-4ZM135.9 851.1h4v4h-4ZM131 854.4h4v4h-4ZM111.1 865.3h4v4h-4ZM131.8 874.3h4v4h-4ZM134.7 876.7h4v4h-4ZM135.1 931h4v4h-4ZM197.3 906.2h4v4h-4ZM201.1 920.2h4v4h-4ZM212.5 932.5h4v4h-4ZM211.2 936h4v4h-4ZM205.6 937.3h4v4h-4ZM213.2 941.1h4v4h-4ZM206.5 947.4h4v4h-4ZM209 949.3h4v4h-4ZM212.2 945.5h4v4h-4ZM214.8 946.2h4v4h-4ZM215.4 953.1h4v4h-4ZM205.6 956.3h4v4h-4ZM209 956.9h4v4h-4ZM212.2 957.6h4v4h-4ZM211 960.7h4v4h-4ZM215.4 960.1h4v4h-4ZM216 963.9h4v4h-4ZM195.1 965.8h4v4h-4ZM208.4 966.2h4v4h-4ZM214.1 969h4v4h-4ZM211.6 971.5h4v4h-4ZM223 973h4v4h-4ZM213.5 977.2h4v4h-4ZM221.7 978.5h4v4h-4ZM211.6 981.7h4v4h-4ZM209 985.5h4v4h-4ZM143 963.6h4v4h-4ZM145.7 970.3h4v4h-4ZM135 977h4v4h-4ZM132.2 970.8h4v4h-4ZM142.4 963.5h4v4h-4ZM145.2 970h4v4h-4ZM128.4 974.4h4v4h-4ZM128.4 985.5h4v4h-4ZM159.43 1012.72h4v4h-4ZM139.1 977.86h4v4h-4ZM143.88 991.15h4v4h-4ZM144.83 984.23h4v4h-4ZM174.79 1004.39h4v4h-4ZM194.91 1031.33h4v4h-4ZM154.75 995.17h4v4h-4ZM179.74 1022.01h4v4h-4ZM204.91 1030.56h4v4h-4ZM152.51 981.75h4v4h-4ZM176.11 1013.42h4v4h-4ZM164.38 1019.83h4v4h-4ZM137.55 982.84h4v4h-4ZM154.82 1014.52h4v4h-4ZM167.85 1019.09h4v4h-4ZM150.24 993.72h4v4h-4ZM177.02 1009.81h4v4h-4ZM131.05 977.83h4v4h-4ZM183.43 1030.36h4v4h-4ZM189.24 1031.09h4v4h-4ZM158.02 988.23h4v4h-4ZM142.71 998.75h4v4h-4ZM169.92 1014.74h4v4h-4ZM164.92 1014.74h4v4h-4ZM187.59 1028.51h4v4h-4ZM137.5 996.92h4v4h-4ZM139.25 994.22h4v4h-4ZM152.58 996.96h4v4h-4ZM186.81 1021.46h4v4h-4ZM157.11 995.48h4v4h-4ZM157.46 1018.03h4v4h-4ZM133.28 986.19h4v4h-4ZM167.99 1028.06h4v4h-4ZM150.19 982.08h4v4h-4ZM151.77 999.9h4v4h-4ZM176.42 1022.64h4v4h-4ZM143.01 993.77h4v4h-4ZM171.4 1028.41h4v4h-4ZM160.86 1021.23h4v4h-4ZM160.71 1003.85h4v4h-4ZM163.2 1000.28h4v4h-4ZM166.24 1012.82h4v4h-4ZM141.5 976.48h4v4h-4ZM173.54 1026.49h4v4h-4ZM182.73 1022.17h4v4h-4ZM164.08 995.49h4v4h-4ZM193.33 1015.85h4v4h-4ZM172.49 1018.87h4v4h-4ZM149.8 997.86h4v4h-4ZM171.36 1000.65h4v4h-4ZM196.07 1024.93h4v4h-4ZM172.12 1007.12h4v4h-4ZM170.73 1020.86h4v4h-4ZM168 1011.46h4v4h-4ZM143.03 979.31h4v4h-4ZM184.62 1016.02h4v4h-4ZM192.91 1022.72h4v4h-4ZM130.92 975.53h4v4h-4ZM176.5 1027.33h4v4h-4ZM185.43 1024.83h4v4h-4ZM141.25 987.05h4v4h-4ZM179.71 1011.37h4v4h-4ZM173.36 1030.86h4v4h-4ZM130.19 985.64h4v4h-4ZM183.61 1009.14h4v4h-4ZM159.92 999.38h4v4h-4ZM182.2 1018.14h4v4h-4ZM134.96 975.53h4v4h-4ZM131.93 981.07h4v4h-4ZM171.18 1024.9h4v4h-4ZM145.94 999.71h4v4h-4ZM193.25 1013.5h4v4h-4ZM148.27 991.95h4v4h-4ZM191.57 1011.35h4v4h-4ZM147.93 1001.42h4v4h-4ZM156.5 1006.77h4v4h-4ZM148.33 979.65h4v4h-4ZM191.68 1025.09h4v4h-4ZM131.1 989.26h4v4h-4ZM154.88 1017.6h4v4h-4ZM162.82 1007.02h4v4h-4ZM176.98 1016.26h4v4h-4ZM143.86 988.39h4v4h-4ZM179.26 1018.2h4v4h-4ZM172.73 1022.97h4v4h-4ZM172.03 1012.04h4v4h-4ZM136.42 978.86h4v4h-4ZM130.07 982.55h4v4h-4ZM188.52 1011.03h4v4h-4ZM194.55 1029.07h4v4h-4ZM148.91 989.06h4v4h-4ZM178.83 1026.76h4v4h-4ZM155.97 1002.14h4v4h-4ZM199.79 1028.38h4v4h-4ZM182.89 1013.99h4v4h-4ZM142.55 984.6h4v4h-4ZM165.39 1025.13h4v4h-4ZM152.43 1002.56h4v4h-4ZM186.51 1014.12h4v4h-4ZM146.95 994.54h4v4h-4ZM160.54 1008.01h4v4h-4ZM161.65 993.87h4v4h-4ZM154.29 990.78h4v4h-4ZM155.64 1011.54h4v4h-4ZM154.05 998.65h4v4h-4ZM177.27 1029.83h4v4h-4ZM140.07 983.57h4v4h-4ZM150.44 1003.94h4v4h-4ZM172.17 1009.4h4v4h-4ZM167.51 1001.11h4v4h-4ZM208.35 983.24h4v4h-4ZM215.68 1014.65h4v4h-4ZM221.75 1002.41h4v4h-4ZM223.53 1024.67h4v4h-4ZM220.22 977.84h4v4h-4ZM221.75 1021.87h4v4h-4ZM223.69 982.5h4v4h-4ZM224.11 976.94h4v4h-4ZM213.18 980.12h4v4h-4ZM219.92 1005.25h4v4h-4ZM217.07 1017.75h4v4h-4ZM217.27 984.22h4v4h-4ZM212.77 985.13h4v4h-4ZM214.47 974.32h4v4h-4ZM218.58 972.99h4v4h-4ZM212.29 993.85h4v4h-4ZM219.05 1029.01h4v4h-4ZM222.09 1008.32h4v4h-4ZM216.19 1001.54h4v4h-4ZM219.65 982.1h4v4h-4ZM217.57 1020.95h4v4h-4ZM220.66 989.58h4v4h-4ZM223.93 1027.2h4v4h-4ZM222.88 993.39h4v4h-4ZM221.37 972.16h4v4h-4ZM219.62 1011.84h4v4h-4ZM220.4 993.4h4v4h-4ZM209 989.73h4v4h-4ZM223.69 1030.85h4v4h-4ZM211.03 997.42h4v4h-4ZM211.44 1004.05h4v4h-4ZM220.17 974.63h4v4h-4ZM224.09 985.32h4v4h-4ZM215.88 981.5h4v4h-4ZM213.6 999.32h4v4h-4ZM209.25 987.05h4v4h-4ZM210.61 982.23h4v4h-4ZM208.54 994.25h4v4h-4ZM221.19 986.69h4v4h-4ZM220.29 997.6h4v4h-4ZM216.93 974.61h4v4h-4ZM224.19 988.71h4v4h-4ZM222.05 1014.58h4v4h-4ZM219.85 1009.04h4v4h-4ZM216.57 987.08h4v4h-4ZM218.92 1024.06h4v4h-4ZM217.8 991.6h4v4h-4ZM214.29 1011.84h4v4h-4ZM223.42 974.74h4v4h-4ZM224.46 1008.56h4v4h-4ZM214.82 1003.87h4v4h-4ZM219.89 984.5h4v4h-4ZM223.65 1017.47h4v4h-4ZM210.39 984.47h4v4h-4ZM214.57 990.34h4v4h-4ZM219.6 970.64h4v4h-4ZM216.39 996.16h4v4h-4ZM217.43 1006.22h4v4h-4ZM214.38 983.48h4v4h-4ZM214.94 976.59h4v4h-4ZM212.05 1001.78h4v4h-4ZM223.74 998.35h4v4h-4ZM220.48 1026.33h4v4h-4ZM214.65 1008.26h4v4h-4ZM220.29 1031.16h4v4h-4Z" fill="#3c6cad" stroke="#2d5490" stroke-width="0.5"/>
<path d="M239.7 947.2h4v4h-4ZM234.8 971.5h4v4h-4ZM237.6 977.8h4v4h-4ZM238.8 981.7h4v4h-4ZM255.1 981.9h4v4h-4ZM260.1 987.1h4v4h-4ZM243.9 985.5h4v4h-4ZM247.1 988h4v4h-4ZM250 990.5h4v4h-4ZM253.1 1003.9h4v4h-4ZM304.6 1003.3h4v4h-4ZM311.7 1002.3h4v4h-4ZM316.4 1001.9h4v4h-4ZM321 1017.1h4v4h-4ZM289.4 1016.7h4v4h-4ZM294.5 1022.8h4v4h-4ZM300.6 1024.6h4v4h-4ZM289 1028.3h4v4h-4ZM240.48 1011.77h4v4h-4ZM243.94 992.25h4v4h-4ZM239.55 1030.14h4v4h-4ZM239.9 1001.49h4v4h-4ZM236.72 994.01h4v4h-4ZM239.45 979.89h4v4h-4ZM241.01 1017.47h4v4h-4ZM238.47 1023.56h4v4h-4ZM242.04 983.45h4v4h-4ZM233.28 1030.9h4v4h-4ZM236.48 988.73h4v4h-4ZM234.22 994.69h4v4h-4ZM232.59 1005.86h4v4h-4ZM236.76 998.68h4v4h-4ZM235.1 983.05h4v4h-4ZM232.96 1025h4v4h-4ZM242.96 1007.78h4v4h-4ZM234.23 985.19h4v4h-4ZM233.31 992.15h4v4h-4ZM239.13 996.69h4v4h-4ZM240.05 1020.18h4v4h-4ZM236.81 980.86h4v4h-4ZM236.91 1025.89h4v4h-4ZM242.33 985.98h4v4h-4ZM239.6 991.33h4v4h-4ZM235.09 1016.14h4v4h-4ZM236.28 1009.09h4v4h-4ZM240.52 987.92h4v4h-4ZM235.14 1029.26h4v4h-4ZM232.59 1028.65h4v4h-4ZM237.63 1020.96h4v4h-4ZM241.16 994.97h4v4h-4ZM237.25 1004.26h4v4h-4ZM233.65 988.17h4v4h-4ZM238.3 984.16h4v4h-4ZM232.62 1001.7h4v4h-4ZM242.65 989.35h4v4h-4ZM246.2 996.02h4v4h-4ZM243.63 1005.38h4v4h-4ZM243.55 998.22h4v4h-4ZM235.78 1013.75h4v4h-4ZM233.88 1019.27h4v4h-4ZM234.95 1000.35h4v4h-4ZM236.85 1006.71h4v4h-4ZM238.92 1027.35h4v4h-4ZM235.8 990.96h4v4h-4ZM245.14 1000.81h4v4h-4ZM234.98 1021.55h4v4h-4ZM239.99 1009.11h4v4h-4ZM240.19 999h4v4h-4ZM239.41 1014.83h4v4h-4ZM235.91 1031.48h4v4h-4ZM234.94 1003.58h4v4h-4ZM237.79 1011.03h4v4h-4ZM241.95 980.91h4v4h-4ZM240.81 1022.83h4v4h-4ZM240.66 1005.9h4v4h-4ZM243.03 1002.12h4v4h-4ZM233.07 1014.19h4v4h-4ZM242.68 1010.34h4v4h-4ZM233.63 1010.4h4v4h-4ZM244.77 987.83h4v4h-4ZM271.04 1026.61h4v4h-4ZM283.76 1023.74h4v4h-4ZM261.87 1026.94h4v4h-4ZM274.92 1022.8h4v4h-4ZM281.35 1026.55h4v4h-4ZM262.18 1030.79h4v4h-4ZM279.96 1023.45h4v4h-4ZM283.15 1020.17h4v4h-4ZM267.12 1025h4v4h-4ZM254.34 1028.54h4v4h-4ZM265.25 1029.58h4v4h-4ZM277.98 1027.25h4v4h-4ZM269.46 1030.11h4v4h-4ZM272.47 1030.01h4v4h-4ZM287.61 1025.9h4v4h-4ZM259.12 1028.13h4v4h-4ZM286 1022.04h4v4h-4ZM270.42 1023.81h4v4h-4ZM256.05 1031.38h4v4h-4ZM274.36 1025.72h4v4h-4ZM276.97 1020.59h4v4h-4ZM263.93 1024.85h4v4h-4ZM252.4 1031.59h4v4h-4ZM286.28 1019.25h4v4h-4Z" fill="#d42f2a" stroke="#a52220" stroke-width="0.5"/>
<path d="M225.85 1031.29h4v4h-4ZM227.87 1028.57h4v4h-4ZM224.8 1016.33h4v4h-4ZM225.59 1020.68h4v4h-4ZM226.18 1013.52h4v4h-4ZM225.91 1023.86h4v4h-4ZM227.65 1006.47h4v4h-4ZM225.2 1010.89h4v4h-4ZM225.84 1027.22h4v4h-4ZM227.81 1015.67h4v4h-4ZM226.88 1002.43h4v4h-4ZM227.96 993.55h4v4h-4ZM225.55 998.54h4v4h-4ZM225.34 992.67h4v4h-4ZM225.57 1005.7h4v4h-4ZM225.27 995.89h4v4h-4ZM227.94 995.8h4v4h-4ZM227.76 1018.04h4v4h-4ZM226.01 1008.45h4v4h-4ZM227.87 990.57h4v4h-4ZM227.59 1011.5h4v4h-4ZM227.71 999.23h4v4h-4ZM227.91 1022.56h4v4h-4ZM224.94 1001.17h4v4h-4Z" fill="#acd4ea" stroke="#7fa9c2" stroke-width="0.5"/>
<path d="M230.92 1022.52h4v4h-4ZM231.62 1026.87h4v4h-4ZM230 1030.69h4v4h-4ZM229.96 1007.93h4v4h-4ZM231.51 1016.24h4v4h-4ZM232.34 994.43h4v4h-4ZM229.09 1019.65h4v4h-4ZM229.18 1002.92h4v4h-4ZM230.14 999.97h4v4h-4ZM231.96 997.16h4v4h-4ZM231.99 1010.8h4v4h-4ZM231.38 1003.87h4v4h-4ZM229.04 1011.71h4v4h-4ZM232.09 1018.76h4v4h-4ZM232.36 1013.83h4v4h-4ZM229.8 1014.67h4v4h-4ZM232.33 1000.69h4v4h-4ZM232.35 1031.52h4v4h-4ZM229.76 1005.56h4v4h-4ZM229.32 1027.67h4v4h-4ZM232.21 1007.75h4v4h-4ZM229.04 1024.03h4v4h-4ZM229.65 997.43h4v4h-4ZM229.01 1017.27h4v4h-4ZM232.48 1024.3h4v4h-4ZM232.49 1028.94h4v4h-4Z" fill="#f4ab5c" stroke="#c78440" stroke-width="0.5"/>
<path d="M226.52 784.1V1053.3M234.28 784.1V1053.3M97.7 1034.85H363.5" stroke="#3fa83f" stroke-width="1" fill="none"/>
<rect x="97.7" y="784.1" width="265.8" height="269.2" fill="none" stroke="#8a8a8a" stroke-width="1.5"/>
<path d="M130.05 1053.3v2.8M163.5 1053.3v2.8M196.95 1053.3v2.8M230.4 1053.3v2.8M263.85 1053.3v2.8M297.3 1053.3v2.8M330.75 1053.3v2.8M97.7 996.35h-2.8M97.7 944.6h-2.8M97.7 892.85h-2.8M97.7 841.1h-2.8M97.7 789.35h-2.8" stroke="#8a8a8a" stroke-width="0.9" fill="none"/>
<text x="130.05" y="1065.3" font-size="7.2" fill="#444" text-anchor="middle" >−15</text>
<text x="163.5" y="1065.3" font-size="7.2" fill="#444" text-anchor="middle" >−10</text>
<text x="196.95" y="1065.3" font-size="7.2" fill="#444" text-anchor="middle" >−5</text>
<text x="230.4" y="1065.3" font-size="7.2" fill="#444" text-anchor="middle" >0</text>
<text x="263.85" y="1065.3" font-size="7.2" fill="#444" text-anchor="middle" >5</text>
<text x="297.3" y="1065.3" font-size="7.2" fill="#444" text-anchor="middle" >10</text>
<text x="330.75" y="1065.3" font-size="7.2" fill="#444" text-anchor="middle" >15</text>
<text x="92.1" y="998.95" font-size="7.2" fill="#444" text-anchor="end" >5</text>
<text x="92.1" y="947.2" font-size="7.2" fill="#444" text-anchor="end" >10</text>
<text x="92.1" y="895.45" font-size="7.2" fill="#444" text-anchor="end" >15</text>
<text x="92.1" y="843.7" font-size="7.2" fill="#444" text-anchor="end" >20</text>
<text x="92.1" y="791.95" font-size="7.2" fill="#444" text-anchor="end" >25</text>
<text x="230.3" y="1092.5" font-size="7.2" fill="#444" text-anchor="middle" >log2(Fold change)</text>
<text x="0" y="0" font-size="7.25" fill="#444" text-anchor="middle" transform="translate(69.1 914.2) rotate(-90)">-log10(correctedPvalue)</text>
<rect x="407.6" y="784.1" width="270.6" height="269.7" fill="#fff"/>
<path d="M413.2 784.1V1053.8M456.33 784.1V1053.8M499.47 784.1V1053.8M542.6 784.1V1053.8M585.74 784.1V1053.8M628.87 784.1V1053.8M672 784.1V1053.8M407.6 1006.74H678.2M407.6 964.88H678.2M407.6 923.02H678.2M407.6 881.16H678.2M407.6 839.3H678.2M407.6 797.44H678.2" stroke="#ececec" stroke-width="0.7" fill="none"/>
<path d="M493.18 1022.06h4.6v4.6h-4.6ZM481.6 997.49h4.6v4.6h-4.6ZM536.81 1045.1h4.6v4.6h-4.6ZM507.95 1002.29h4.6v4.6h-4.6ZM523.88 1023.64h4.6v4.6h-4.6ZM486.15 1006.15h4.6v4.6h-4.6ZM495.93 999.57h4.6v4.6h-4.6ZM490.54 1010.3h4.6v4.6h-4.6ZM515.71 1032.85h4.6v4.6h-4.6ZM512.75 1013.82h4.6v4.6h-4.6ZM497.45 1025.31h4.6v4.6h-4.6ZM525.42 1013.81h4.6v4.6h-4.6ZM528.07 1033.73h4.6v4.6h-4.6ZM507.49 1032.47h4.6v4.6h-4.6ZM488.49 1014.79h4.6v4.6h-4.6ZM494.29 1015.11h4.6v4.6h-4.6ZM533.85 1040.35h4.6v4.6h-4.6ZM499.11 1010.04h4.6v4.6h-4.6ZM508.63 1019.84h4.6v4.6h-4.6ZM495.69 1006.9h4.6v4.6h-4.6ZM510.98 1003.6h4.6v4.6h-4.6ZM521.49 1037.44h4.6v4.6h-4.6ZM527.56 1039.74h4.6v4.6h-4.6ZM496.15 1020.56h4.6v4.6h-4.6ZM516.36 1036.72h4.6v4.6h-4.6ZM499.21 1016.74h4.6v4.6h-4.6ZM499.83 1005.05h4.6v4.6h-4.6ZM487.99 998.77h4.6v4.6h-4.6ZM502.74 1029.08h4.6v4.6h-4.6ZM531.17 1028.57h4.6v4.6h-4.6ZM483.16 1000.78h4.6v4.6h-4.6ZM511.3 1007.59h4.6v4.6h-4.6ZM519.7 1013.68h4.6v4.6h-4.6ZM505.23 1013.52h4.6v4.6h-4.6ZM501.6 1023.62h4.6v4.6h-4.6ZM531.4 1033.9h4.6v4.6h-4.6ZM506.4 1027.13h4.6v4.6h-4.6ZM517.61 1021.04h4.6v4.6h-4.6ZM503.13 1004.7h4.6v4.6h-4.6ZM508.85 1012.13h4.6v4.6h-4.6ZM484.27 1010.25h4.6v4.6h-4.6ZM507.1 1006.12h4.6v4.6h-4.6ZM523.46 1032.44h4.6v4.6h-4.6ZM515.95 1016.34h4.6v4.6h-4.6ZM509.94 1030.23h4.6v4.6h-4.6ZM521.49 1009.95h4.6v4.6h-4.6ZM502.16 1007.99h4.6v4.6h-4.6ZM522.53 1020.71h4.6v4.6h-4.6ZM528.37 1019.51h4.6v4.6h-4.6ZM514.22 1004.3h4.6v4.6h-4.6ZM502.97 1001.38h4.6v4.6h-4.6ZM527.91 1029.24h4.6v4.6h-4.6ZM524.78 1018.41h4.6v4.6h-4.6ZM518.44 1008.09h4.6v4.6h-4.6ZM523.38 1027.73h4.6v4.6h-4.6ZM503.99 1021.04h4.6v4.6h-4.6ZM519.75 1023.74h4.6v4.6h-4.6ZM512.01 1033.26h4.6v4.6h-4.6ZM491.93 1018.11h4.6v4.6h-4.6ZM492.14 1002.86h4.6v4.6h-4.6ZM512.36 1019.28h4.6v4.6h-4.6ZM514.01 1027.73h4.6v4.6h-4.6ZM514.08 1010.06h4.6v4.6h-4.6ZM511.47 1023.53h4.6v4.6h-4.6ZM508.02 1016.19h4.6v4.6h-4.6ZM508.28 1023.23h4.6v4.6h-4.6ZM522.63 1041.08h4.6v4.6h-4.6ZM500.82 1013.11h4.6v4.6h-4.6ZM530.98 1041.86h4.6v4.6h-4.6ZM518.82 1029.31h4.6v4.6h-4.6ZM529.58 1023.22h4.6v4.6h-4.6ZM488.98 1001.97h4.6v4.6h-4.6ZM516.21 1012.63h4.6v4.6h-4.6ZM482.74 1005.87h4.6v4.6h-4.6ZM492.05 997.57h4.6v4.6h-4.6ZM536.79 1016.65h4.6v4.6h-4.6ZM539.13 1011.62h4.6v4.6h-4.6ZM540.49 1014.46h4.6v4.6h-4.6ZM529.64 1015.97h4.6v4.6h-4.6ZM529.24 997.64h4.6v4.6h-4.6ZM539.78 1023.41h4.6v4.6h-4.6ZM541.75 1005.04h4.6v4.6h-4.6ZM550.73 993.63h4.6v4.6h-4.6ZM537.31 1031.58h4.6v4.6h-4.6ZM546.22 1005.54h4.6v4.6h-4.6ZM529.51 1011.07h4.6v4.6h-4.6ZM543.62 1042.8h4.6v4.6h-4.6ZM550.02 1040.75h4.6v4.6h-4.6ZM533.73 1034.86h4.6v4.6h-4.6ZM546.48 1026.77h4.6v4.6h-4.6ZM544.22 1008.31h4.6v4.6h-4.6ZM540.95 994.03h4.6v4.6h-4.6ZM539.86 1047.52h4.6v4.6h-4.6ZM551.36 1024.07h4.6v4.6h-4.6ZM541.28 1038.35h4.6v4.6h-4.6ZM530.6 1007.11h4.6v4.6h-4.6ZM547.39 1023.42h4.6v4.6h-4.6ZM546.69 1016.97h4.6v4.6h-4.6ZM534.8 1029.07h4.6v4.6h-4.6ZM540.59 1030.8h4.6v4.6h-4.6ZM547.06 1009.97h4.6v4.6h-4.6ZM550.74 1031.82h4.6v4.6h-4.6ZM532.76 1045.12h4.6v4.6h-4.6ZM531.64 999.63h4.6v4.6h-4.6ZM537.72 1007.18h4.6v4.6h-4.6ZM530.24 992.9h4.6v4.6h-4.6ZM529.66 1002.21h4.6v4.6h-4.6ZM540.47 1020.18h4.6v4.6h-4.6ZM546.71 1038.78h4.6v4.6h-4.6ZM536.48 1041.99h4.6v4.6h-4.6ZM530.56 1020.19h4.6v4.6h-4.6ZM539.95 999.8h4.6v4.6h-4.6ZM551.03 998.49h4.6v4.6h-4.6ZM530.22 1037.48h4.6v4.6h-4.6ZM546.73 1020.13h4.6v4.6h-4.6ZM547.01 1001.38h4.6v4.6h-4.6ZM535.07 1023.31h4.6v4.6h-4.6ZM550.85 1002.68h4.6v4.6h-4.6ZM544.33 994.07h4.6v4.6h-4.6ZM534.76 1019.7h4.6v4.6h-4.6ZM536.98 998.01h4.6v4.6h-4.6ZM549.99 1028.47h4.6v4.6h-4.6ZM534.86 1003.92h4.6v4.6h-4.6ZM533.51 1041.06h4.6v4.6h-4.6ZM529.33 1041.94h4.6v4.6h-4.6ZM540.67 1027.32h4.6v4.6h-4.6ZM550.67 1020.89h4.6v4.6h-4.6ZM529.23 1027.02h4.6v4.6h-4.6ZM544.4 1013.57h4.6v4.6h-4.6ZM532.87 996.22h4.6v4.6h-4.6ZM532.75 1026.38h4.6v4.6h-4.6ZM537.54 1034.73h4.6v4.6h-4.6ZM543.18 1034.08h4.6v4.6h-4.6ZM543.65 997.78h4.6v4.6h-4.6ZM536.91 993.42h4.6v4.6h-4.6ZM530.14 1033.44h4.6v4.6h-4.6ZM543.08 1023.85h4.6v4.6h-4.6ZM547.13 997.89h4.6v4.6h-4.6ZM536.71 1047.48h4.6v4.6h-4.6ZM546.38 1030.18h4.6v4.6h-4.6ZM550.44 1016.58h4.6v4.6h-4.6ZM551.13 1035.47h4.6v4.6h-4.6ZM533.27 993.23h4.6v4.6h-4.6ZM533.09 1015.9h4.6v4.6h-4.6ZM536.19 1038.73h4.6v4.6h-4.6ZM576.49 1001.56h4.6v4.6h-4.6ZM585.97 1010.42h4.6v4.6h-4.6ZM599.12 1004.72h4.6v4.6h-4.6ZM588.9 1003.31h4.6v4.6h-4.6ZM550.94 1028.46h4.6v4.6h-4.6ZM557.35 1021.3h4.6v4.6h-4.6ZM594.02 1002.76h4.6v4.6h-4.6ZM564.37 1012.26h4.6v4.6h-4.6ZM593.51 1008.84h4.6v4.6h-4.6ZM577.83 1009.41h4.6v4.6h-4.6ZM560.78 1013.75h4.6v4.6h-4.6ZM561.46 1009.85h4.6v4.6h-4.6ZM563.84 1022.52h4.6v4.6h-4.6ZM563.22 1017.08h4.6v4.6h-4.6ZM584.35 1015.78h4.6v4.6h-4.6ZM569.51 1008.16h4.6v4.6h-4.6ZM569.92 1022.14h4.6v4.6h-4.6ZM569.61 1028.79h4.6v4.6h-4.6ZM578.61 1019.8h4.6v4.6h-4.6ZM557.27 1035.14h4.6v4.6h-4.6ZM579.7 1004.98h4.6v4.6h-4.6ZM583.33 999.18h4.6v4.6h-4.6ZM563.16 1034.66h4.6v4.6h-4.6ZM598.53 1000.21h4.6v4.6h-4.6ZM549.74 1037.4h4.6v4.6h-4.6ZM584 1019h4.6v4.6h-4.6ZM572.54 1004.53h4.6v4.6h-4.6ZM583.42 1023.26h4.6v4.6h-4.6ZM575.17 1023.6h4.6v4.6h-4.6ZM580.59 1014.14h4.6v4.6h-4.6ZM570.69 1032.03h4.6v4.6h-4.6ZM554.43 1038.16h4.6v4.6h-4.6ZM595.65 1012.67h4.6v4.6h-4.6ZM592.04 998.67h4.6v4.6h-4.6ZM587.16 1014.04h4.6v4.6h-4.6ZM591.1 1006.32h4.6v4.6h-4.6ZM588.58 999.91h4.6v4.6h-4.6ZM550.49 1042.11h4.6v4.6h-4.6ZM553.08 1033.44h4.6v4.6h-4.6ZM602.45 1000.95h4.6v4.6h-4.6ZM546.15 1040.39h4.6v4.6h-4.6ZM569.28 1001.63h4.6v4.6h-4.6ZM578.62 1025.46h4.6v4.6h-4.6ZM562.4 1029.62h4.6v4.6h-4.6ZM567.65 1014.71h4.6v4.6h-4.6ZM601.13 1008.43h4.6v4.6h-4.6ZM587.76 1018.44h4.6v4.6h-4.6ZM571.82 1014.03h4.6v4.6h-4.6ZM591.11 1011.35h4.6v4.6h-4.6ZM583.6 1007.66h4.6v4.6h-4.6ZM558.47 1031.71h4.6v4.6h-4.6ZM573.22 1019.96h4.6v4.6h-4.6ZM549.91 1034.14h4.6v4.6h-4.6ZM561.12 1024.26h4.6v4.6h-4.6ZM578.23 996.79h4.6v4.6h-4.6ZM566.42 1003.76h4.6v4.6h-4.6ZM575.88 1013.9h4.6v4.6h-4.6ZM581.5 996.45h4.6v4.6h-4.6ZM573.68 1009.73h4.6v4.6h-4.6ZM557.82 1027.65h4.6v4.6h-4.6ZM566.35 1009.16h4.6v4.6h-4.6ZM596.88 1009.53h4.6v4.6h-4.6ZM553.97 1025.12h4.6v4.6h-4.6ZM587.44 1007.53h4.6v4.6h-4.6ZM547.04 1043.62h4.6v4.6h-4.6ZM590.56 1016.09h4.6v4.6h-4.6ZM557.8 1016.43h4.6v4.6h-4.6ZM566.72 1018.78h4.6v4.6h-4.6ZM566.08 1031.82h4.6v4.6h-4.6ZM555.44 1029.92h4.6v4.6h-4.6ZM582.64 1002.32h4.6v4.6h-4.6ZM586.25 996.35h4.6v4.6h-4.6ZM480.7 995.7h4.6v4.6h-4.6ZM487.7 1013.7h4.6v4.6h-4.6ZM499.7 1017.7h4.6v4.6h-4.6ZM485.7 998.7h4.6v4.6h-4.6ZM561.1 998.9h4.6v4.6h-4.6ZM571.3 996.4h4.6v4.6h-4.6Z" fill="#c8c8c8" stroke="#969696" stroke-width="0.65"/>
<path d="M418.6 826h4v4h-4ZM442.1 871h4v4h-4ZM457.9 935.5h4v4h-4ZM443.7 946.5h4v4h-4ZM471.3 970.8h4v4h-4ZM472.5 978.1h4v4h-4ZM477.4 981.7h4v4h-4ZM450.2 981h4v4h-4ZM523.2 975.7h4v4h-4ZM526.4 991.3h4v4h-4ZM534.6 831.7h4v4h-4ZM534.6 833.3h4v4h-4ZM531.8 870.7h4v4h-4ZM531.3 873h4v4h-4ZM532.8 883.9h4v4h-4ZM531.5 889.6h4v4h-4ZM533.3 896h4v4h-4ZM528.3 899.8h4v4h-4ZM530.8 902.6h4v4h-4ZM534.9 903.6h4v4h-4ZM532.8 907.7h4v4h-4ZM531.5 912.2h4v4h-4ZM532.8 918.8h4v4h-4ZM529.3 925.4h4v4h-4ZM533.3 925.4h4v4h-4ZM530.3 931h4v4h-4ZM530.05 944.3h4v4h-4ZM528.33 986.66h4v4h-4ZM531.62 972.79h4v4h-4ZM531.42 953.78h4v4h-4ZM532.85 965.74h4v4h-4ZM533.25 971.02h4v4h-4ZM533.71 957.24h4v4h-4ZM528.24 939.29h4v4h-4ZM532.79 940.39h4v4h-4ZM532.24 968.49h4v4h-4ZM527.48 978.63h4v4h-4ZM527.26 983.75h4v4h-4ZM533.73 943.38h4v4h-4ZM532.81 975.41h4v4h-4ZM528 971.54h4v4h-4ZM532.51 990.76h4v4h-4ZM527.43 949.7h4v4h-4ZM533.77 948.69h4v4h-4ZM530.41 976.16h4v4h-4ZM531.32 984.58h4v4h-4ZM528.11 934.08h4v4h-4ZM531.87 955.94h4v4h-4ZM528.93 957.12h4v4h-4ZM532.33 933.99h4v4h-4ZM528.9 965.16h4v4h-4ZM527.95 991.85h4v4h-4ZM531.42 960.86h4v4h-4ZM534.77 985.41h4v4h-4ZM533.58 931.85h4v4h-4ZM531.72 988.39h4v4h-4ZM532.82 978.59h4v4h-4ZM527.57 961.61h4v4h-4Z" fill="#3c6cad" stroke="#2d5490" stroke-width="0.5"/>
<path d="M536.9 890.6h4v4h-4ZM536.9 910.7h4v4h-4ZM537.2 913.8h4v4h-4ZM538.4 926h4v4h-4ZM536.9 933h4v4h-4ZM537.01 943.84h4v4h-4ZM539.55 971.96h4v4h-4ZM540.41 935.39h4v4h-4ZM537.82 931.85h4v4h-4ZM536.7 961.33h4v4h-4ZM539.07 963.79h4v4h-4ZM536.71 966.53h4v4h-4ZM537.37 939.64h4v4h-4ZM540.76 950.87h4v4h-4ZM536.01 936h4v4h-4ZM540.16 967.43h4v4h-4ZM539.94 975.24h4v4h-4ZM538.45 990.33h4v4h-4ZM536.75 947.94h4v4h-4ZM539 952.62h4v4h-4ZM536.97 988.07h4v4h-4ZM536.44 975.21h4v4h-4ZM536.4 953.53h4v4h-4ZM540.94 969.68h4v4h-4ZM540.14 978.11h4v4h-4ZM540.53 958.45h4v4h-4ZM538.59 946.29h4v4h-4ZM538.72 985.67h4v4h-4ZM540.99 961.59h4v4h-4ZM536.1 968.9h4v4h-4ZM539.86 956.17h4v4h-4ZM540.84 983.37h4v4h-4ZM536.11 956.96h4v4h-4ZM535.5 950.1h4v4h-4ZM540.33 988.71h4v4h-4ZM539.71 937.96h4v4h-4ZM536.96 984.09h4v4h-4ZM536.81 971.48h4v4h-4ZM539.94 941.81h4v4h-4ZM537.83 958.96h4v4h-4ZM536.96 978.61h4v4h-4ZM540.77 991.72h4v4h-4ZM535.94 941.52h4v4h-4ZM539.19 948.6h4v4h-4ZM536.09 964.3h4v4h-4Z" fill="#acd4ea" stroke="#7fa9c2" stroke-width="0.5"/>
<path d="M544.5 879.8h4v4h-4ZM544.5 909.7h4v4h-4ZM543.5 918.8h4v4h-4ZM545 927h4v4h-4ZM543.5 936h4v4h-4ZM541.67 974.38h4v4h-4ZM542.15 960.83h4v4h-4ZM544.52 979.99h4v4h-4ZM543.54 962.9h4v4h-4ZM543.18 983.43h4v4h-4ZM543.96 977.81h4v4h-4ZM543.45 944.22h4v4h-4ZM543.19 939.55h4v4h-4ZM544.98 968.64h4v4h-4ZM543.2 936.84h4v4h-4ZM541.78 988.63h4v4h-4ZM545.28 951.18h4v4h-4ZM545.5 964.29h4v4h-4ZM544.13 988.1h4v4h-4ZM543.88 974.67h4v4h-4ZM544.16 955.35h4v4h-4ZM542.34 969.06h4v4h-4ZM541.88 941.38h4v4h-4ZM542.19 980.83h4v4h-4ZM541.99 965.04h4v4h-4ZM541.51 986.4h4v4h-4ZM545.89 941.21h4v4h-4ZM544.81 991.37h4v4h-4ZM545.57 985.33h4v4h-4ZM544.09 949.1h4v4h-4ZM545.84 972.84h4v4h-4ZM545.81 946.87h4v4h-4ZM542.35 946.56h4v4h-4ZM543.19 953.05h4v4h-4ZM542.73 971.56h4v4h-4Z" fill="#f4ab5c" stroke="#c78440" stroke-width="0.5"/>
<path d="M551.6 787.6h4v4h-4ZM554.6 787.6h4v4h-4ZM556.7 807.4h4v4h-4ZM555.1 808.9h4v4h-4ZM555.5 814h4v4h-4ZM549.1 821.1h4v4h-4ZM551.1 824.6h4v4h-4ZM554.1 826.7h4v4h-4ZM550.6 829.7h4v4h-4ZM549.6 833.3h4v4h-4ZM547.5 834.8h4v4h-4ZM557.4 834.8h4v4h-4ZM549.6 839.9h4v4h-4ZM551.6 842.9h4v4h-4ZM553.6 844.9h4v4h-4ZM548.6 844.9h4v4h-4ZM549.1 850h4v4h-4ZM549.6 854h4v4h-4ZM552.6 856.1h4v4h-4ZM563.3 886.4h4v4h-4ZM561.2 897h4v4h-4ZM556.2 876.3h4v4h-4ZM588.7 978.7h4v4h-4ZM589.7 989.9h4v4h-4ZM596.8 978.7h4v4h-4ZM621.1 934.1h4v4h-4ZM621.5 945.2h4v4h-4ZM624.2 938.1h4v4h-4ZM626.2 930.4h4v4h-4ZM622.6 965.5h4v4h-4ZM612 954.4h4v4h-4ZM613.6 958h4v4h-4ZM639.6 918.9h4v4h-4ZM633.5 879.5h4v4h-4ZM632.3 894.5h4v4h-4ZM637.6 894.5h4v4h-4ZM645.7 815.5h4v4h-4ZM641.6 820.7h4v4h-4ZM644.5 822.8h4v4h-4ZM648.5 843.8h4v4h-4ZM629.5 938.3h4v4h-4ZM636.4 938.3h4v4h-4ZM642.8 938.3h4v4h-4ZM625.4 924.2h4v4h-4ZM551.61 936.58h4v4h-4ZM557.28 892.38h4v4h-4ZM549.31 874.52h4v4h-4ZM548.46 933.16h4v4h-4ZM551.23 920.01h4v4h-4ZM555.14 910.46h4v4h-4ZM547.42 972.82h4v4h-4ZM554.22 884.55h4v4h-4ZM547.38 882.45h4v4h-4ZM554.32 988.32h4v4h-4ZM546.94 917.69h4v4h-4ZM552.47 981.94h4v4h-4ZM548.86 902.26h4v4h-4ZM549.6 876.95h4v4h-4ZM554.92 969.82h4v4h-4ZM551.95 875.58h4v4h-4ZM555.42 960.18h4v4h-4ZM556.88 947.3h4v4h-4ZM553.87 936.4h4v4h-4ZM549.42 926.12h4v4h-4ZM556.43 953.73h4v4h-4ZM550.82 970.17h4v4h-4ZM548.47 898h4v4h-4ZM546.68 962.17h4v4h-4ZM548.99 884.49h4v4h-4ZM550.75 972.4h4v4h-4ZM554.08 878.17h4v4h-4ZM548.74 948.74h4v4h-4ZM549.92 954.28h4v4h-4ZM554.33 894.31h4v4h-4ZM549.99 987.27h4v4h-4ZM552.9 975.66h4v4h-4ZM552.6 905.38h4v4h-4ZM553.34 985.09h4v4h-4ZM547.43 924.44h4v4h-4ZM554.64 981.35h4v4h-4ZM547.55 980.18h4v4h-4ZM556.13 904.71h4v4h-4ZM548.24 985.2h4v4h-4ZM550.49 910.38h4v4h-4ZM556.53 917.23h4v4h-4ZM555.08 925.33h4v4h-4ZM552.77 948.23h4v4h-4ZM550.35 886.51h4v4h-4ZM550.52 942.84h4v4h-4ZM556.45 885.18h4v4h-4ZM546.7 880.11h4v4h-4ZM551.56 967.42h4v4h-4ZM554.75 891.81h4v4h-4ZM557.63 928.16h4v4h-4ZM557.47 931.06h4v4h-4ZM549.31 922.96h4v4h-4ZM546.91 904.03h4v4h-4ZM558.29 923.89h4v4h-4ZM546.56 968.1h4v4h-4ZM550.27 891.91h4v4h-4ZM554.47 951.42h4v4h-4ZM550.55 956.97h4v4h-4ZM557.44 912.1h4v4h-4ZM554.65 962.73h4v4h-4ZM550.76 951.74h4v4h-4ZM549.74 978.71h4v4h-4ZM553.14 914.3h4v4h-4ZM553.47 971.76h4v4h-4ZM550.65 898.7h4v4h-4ZM557.55 935.53h4v4h-4ZM546.7 959.27h4v4h-4ZM556.46 964.9h4v4h-4ZM554.39 940.93h4v4h-4ZM555.2 919.41h4v4h-4ZM546.67 900.89h4v4h-4ZM548.91 939.82h4v4h-4ZM556.03 957.34h4v4h-4ZM550.33 959.55h4v4h-4ZM552.62 899.93h4v4h-4ZM550.57 904.26h4v4h-4ZM556.23 900.09h4v4h-4ZM557.97 939.8h4v4h-4ZM550.27 982.73h4v4h-4ZM546.65 890.16h4v4h-4ZM551.8 923.3h4v4h-4ZM547.57 907.23h4v4h-4ZM551.63 962.28h4v4h-4ZM551.24 964.76h4v4h-4ZM547.74 977.08h4v4h-4ZM547.48 955.04h4v4h-4ZM547.07 886.29h4v4h-4ZM549.08 916.04h4v4h-4ZM547.68 952.21h4v4h-4ZM556.64 973.19h4v4h-4ZM549.09 879.66h4v4h-4ZM556.86 921.39h4v4h-4ZM548.63 946.05h4v4h-4ZM554.2 888.57h4v4h-4ZM553.67 921.31h4v4h-4ZM555.34 944.5h4v4h-4ZM552.51 882h4v4h-4ZM555.1 880.57h4v4h-4ZM547.88 912h4v4h-4ZM548.51 965.98h4v4h-4ZM546.78 921.13h4v4h-4ZM557.33 909.12h4v4h-4ZM555.02 991.65h4v4h-4ZM548.45 991.95h4v4h-4ZM546.93 928.75h4v4h-4ZM553.19 934.03h4v4h-4ZM551.08 895.37h4v4h-4ZM552.2 954.91h4v4h-4ZM552.68 926.49h4v4h-4ZM547.36 895.62h4v4h-4ZM555.34 931.74h4v4h-4ZM553.56 917.77h4v4h-4ZM554.08 956.13h4v4h-4ZM551.05 872h4v4h-4ZM556.43 882.82h4v4h-4ZM548.6 871h4v4h-4ZM552.6 871h4v4h-4ZM556 876h4v4h-4ZM547.5 864h4v4h-4ZM550 862h4v4h-4ZM588.7 978.3h4v4h-4ZM591.2 989h4v4h-4ZM588.7 991.6h4v4h-4ZM597 978.9h4v4h-4ZM600.1 982.1h4v4h-4ZM595.7 985.2h4v4h-4ZM598.8 988.4h4v4h-4ZM603.9 985.2h4v4h-4ZM605.2 988.4h4v4h-4ZM598.8 991.6h4v4h-4ZM603.9 991.6h4v4h-4ZM602.6 973.8h4v4h-4ZM606.4 970.7h4v4h-4ZM609 968.1h4v4h-4ZM611.5 966.9h4v4h-4ZM614 968.1h4v4h-4ZM606.4 975.7h4v4h-4ZM610.2 973.2h4v4h-4ZM622.9 965.9h4v4h-4ZM614 958h4v4h-4ZM601 977h4v4h-4ZM604 980h4v4h-4ZM608 965h4v4h-4Z" fill="#d42f2a" stroke="#a52220" stroke-width="0.5"/>
<path d="M537.25 784.1V1053.8M547.95 784.1V1053.8M407.6 994.77H678.2" stroke="#3fa83f" stroke-width="1" fill="none"/>
<rect x="407.6" y="784.1" width="270.6" height="269.7" fill="none" stroke="#8a8a8a" stroke-width="1.5"/>
<path d="M413.2 1053.8v2.8M456.33 1053.8v2.8M499.47 1053.8v2.8M542.6 1053.8v2.8M585.74 1053.8v2.8M628.87 1053.8v2.8M672 1053.8v2.8M407.6 1006.74h-2.8M407.6 964.88h-2.8M407.6 923.02h-2.8M407.6 881.16h-2.8M407.6 839.3h-2.8M407.6 797.44h-2.8" stroke="#8a8a8a" stroke-width="0.9" fill="none"/>
<text x="413.2" y="1065.8" font-size="7.2" fill="#444" text-anchor="middle" >−15</text>
<text x="456.33" y="1065.8" font-size="7.2" fill="#444" text-anchor="middle" >−10</text>
<text x="499.47" y="1065.8" font-size="7.2" fill="#444" text-anchor="middle" >−5</text>
<text x="542.6" y="1065.8" font-size="7.2" fill="#444" text-anchor="middle" >0</text>
<text x="585.74" y="1065.8" font-size="7.2" fill="#444" text-anchor="middle" >5</text>
<text x="628.87" y="1065.8" font-size="7.2" fill="#444" text-anchor="middle" >10</text>
<text x="672" y="1065.8" font-size="7.2" fill="#444" text-anchor="middle" >15</text>
<text x="402" y="1009.34" font-size="7.2" fill="#444" text-anchor="end" >1</text>
<text x="402" y="967.48" font-size="7.2" fill="#444" text-anchor="end" >2</text>
<text x="402" y="925.62" font-size="7.2" fill="#444" text-anchor="end" >3</text>
<text x="402" y="883.76" font-size="7.2" fill="#444" text-anchor="end" >4</text>
<text x="402" y="841.9" font-size="7.2" fill="#444" text-anchor="end" >5</text>
<text x="402" y="800.04" font-size="7.2" fill="#444" text-anchor="end" >6</text>
<text x="542.6" y="1092.5" font-size="7.2" fill="#444" text-anchor="middle" >log2(Fold change)</text>
<text x="0" y="0" font-size="7.25" fill="#444" text-anchor="middle" transform="translate(378.3 913.8) rotate(-90)">-log10(correctedPvalue)</text>
<circle cx="43.3" cy="592.9" r="0.6" fill="#333"/>
<text x="156.5" y="769.9" font-size="23.3" fill="#000" text-anchor="start" >Control vs DSS</text>
<text x="469.7" y="769.9" font-size="23.4" fill="#000" text-anchor="start" >DSS vs WED</text>
<text x="158" y="1119.8" font-size="23.3" fill="#000" text-anchor="start" >Control vs DSS</text>
<text x="472" y="1119.8" font-size="23.4" fill="#000" text-anchor="start" >DSS vs WED</text>
<g style="filter:blur(1px)">
<rect x="687" y="430.2" width="19" height="19.2" fill="#d22f27"/>
<rect x="687" y="467.9" width="19" height="18.8" fill="#3d6db0"/>
<text x="714.8" y="448.5" font-size="27.6" fill="#2a2a2a" stroke="#2a2a2a" stroke-width="0.55" style='font-family:"Liberation Serif", serif'>Up</text>
<text x="714.8" y="486.2" font-size="27.6" fill="#2a2a2a" stroke="#2a2a2a" stroke-width="0.55" style='font-family:"Liberation Serif", serif'>Down</text>
</g>
<g style="filter:blur(1px)">
<rect x="692" y="782.2" width="19" height="19.2" fill="#d22f27"/>
<rect x="692" y="819.9" width="19" height="18.8" fill="#3d6db0"/>
<text x="719.6" y="800.2" font-size="27.6" fill="#2a2a2a" stroke="#2a2a2a" stroke-width="0.55" style='font-family:"Liberation Serif", serif'>Up</text>
<text x="719.6" y="837.9" font-size="27.6" fill="#2a2a2a" stroke="#2a2a2a" stroke-width="0.55" style='font-family:"Liberation Serif", serif'>Down</text>
</g>
</svg></body></html>
